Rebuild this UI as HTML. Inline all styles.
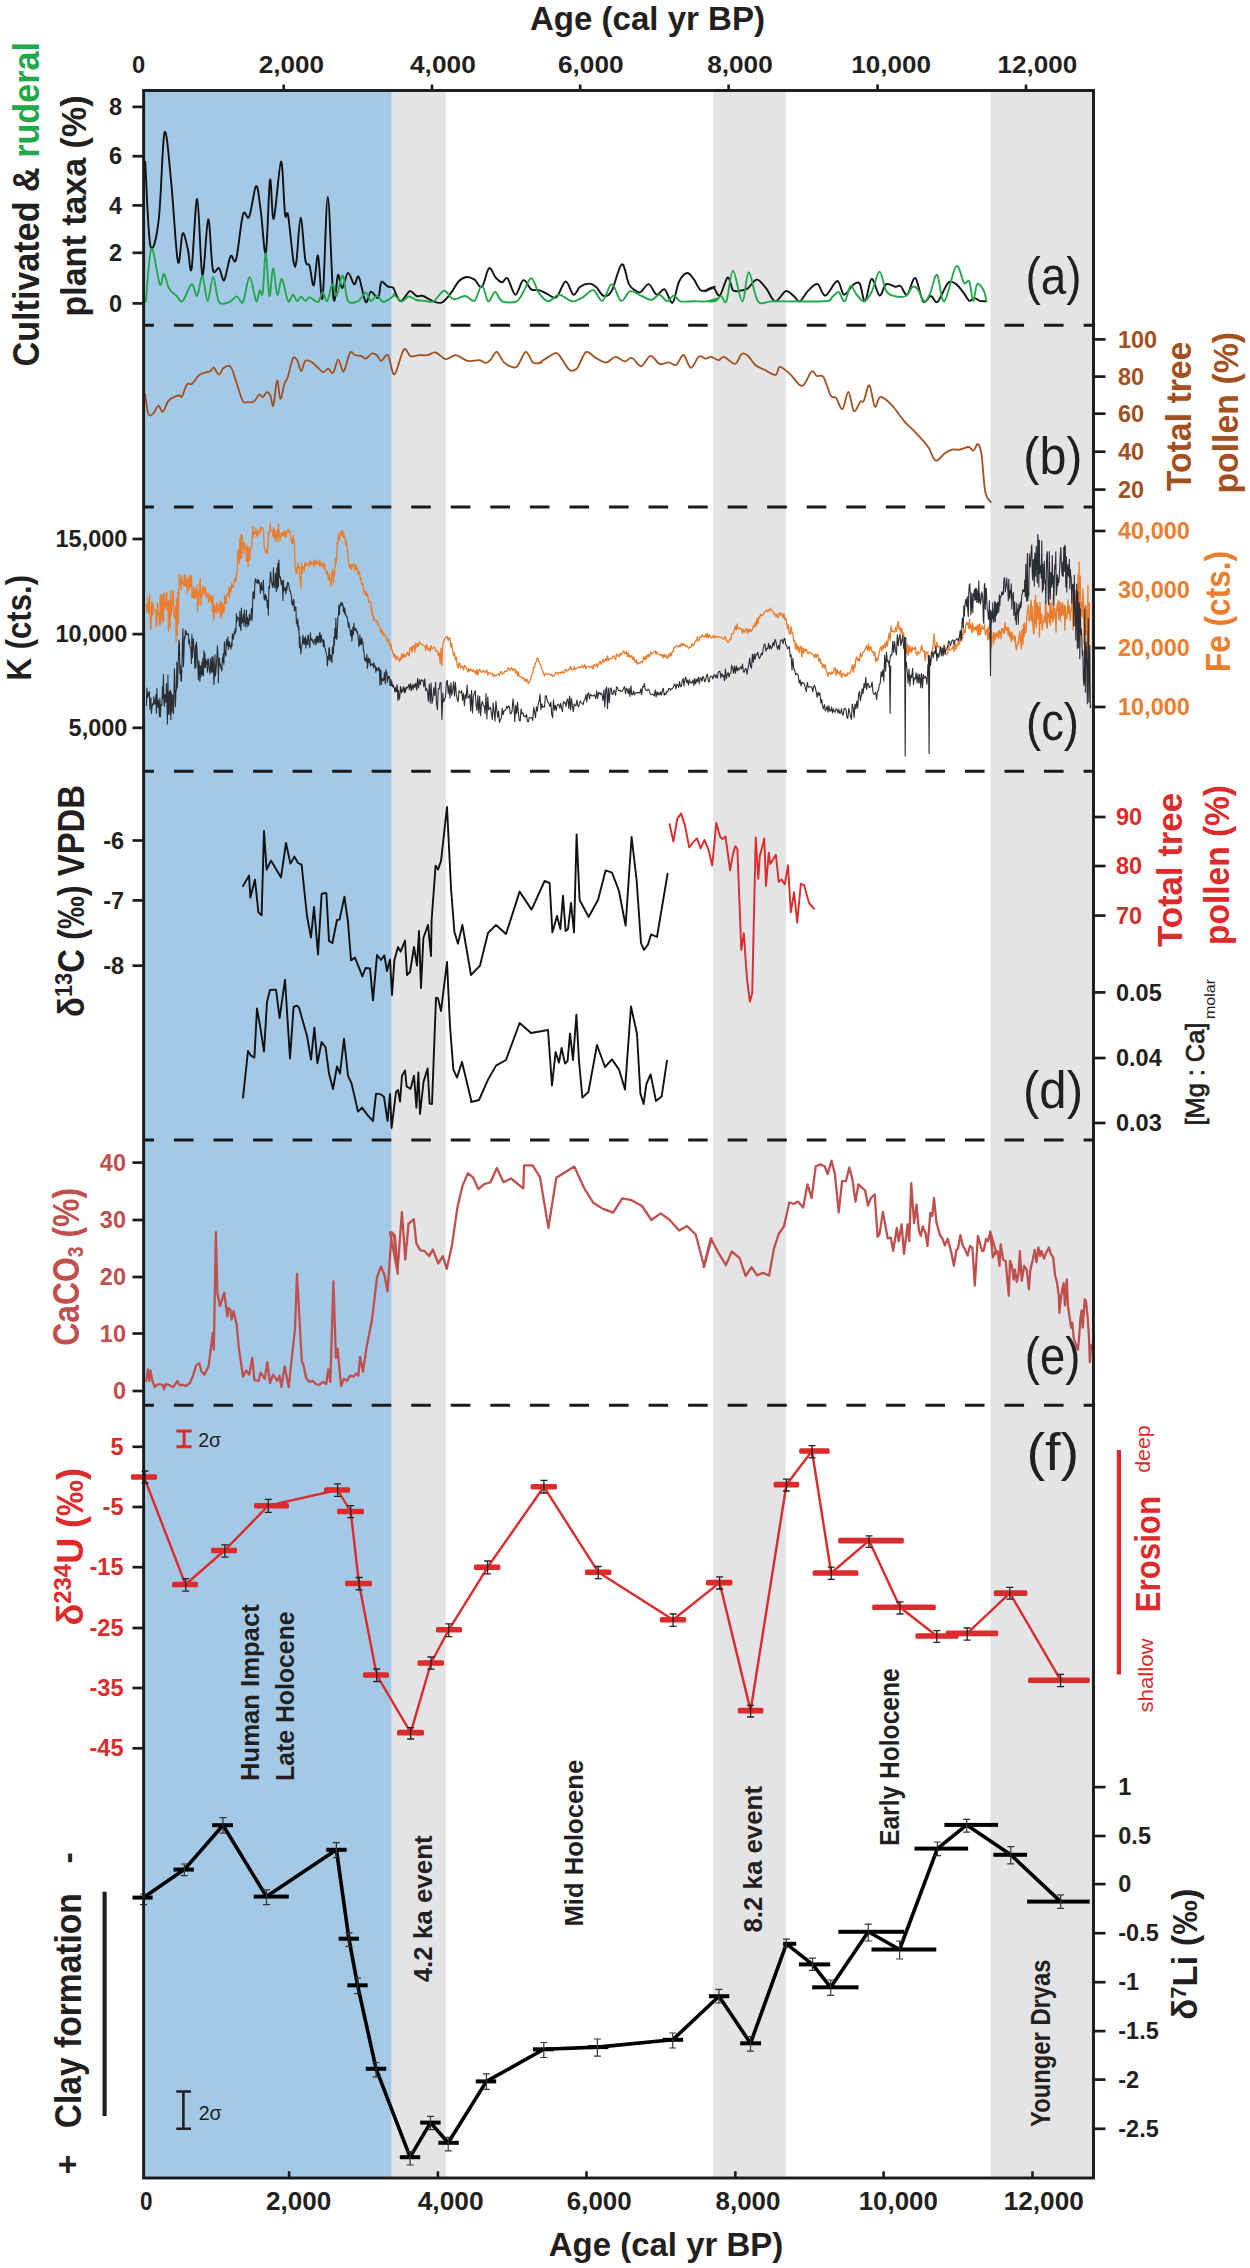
<!DOCTYPE html>
<html><head><meta charset="utf-8"><title>Figure</title>
<style>html,body{margin:0;padding:0;background:#fff;} body{width:1250px;height:2268px;overflow:hidden;font-family:"Liberation Sans",sans-serif;} svg{display:block;}</style>
</head><body>
<svg width="1250" height="2268" viewBox="0 0 1250 2268" font-family="Liberation Sans, sans-serif"><rect x="0" y="0" width="1250" height="2268" fill="#ffffff"/>
<rect x="143.6" y="90.5" width="248.1" height="2087.5" fill="#a4c9e6"/>
<rect x="391.7" y="90.5" width="54.0" height="2087.5" fill="#e4e4e6"/>
<rect x="713.2" y="90.5" width="72.69999999999993" height="2087.5" fill="#e4e4e6"/>
<rect x="990.5" y="90.5" width="103.0" height="2087.5" fill="#e4e4e6"/>
<line x1="143.6" y1="325.3" x2="1093.5" y2="325.3" stroke="#1a1a1a" stroke-width="3" stroke-dasharray="19.6 19.95" stroke-dashoffset="9.20"/>
<line x1="143.6" y1="506.9" x2="1093.5" y2="506.9" stroke="#1a1a1a" stroke-width="3" stroke-dasharray="19.6 19.95" stroke-dashoffset="9.20"/>
<line x1="143.6" y1="771.2" x2="1093.5" y2="771.2" stroke="#1a1a1a" stroke-width="3" stroke-dasharray="19.6 19.95" stroke-dashoffset="9.20"/>
<line x1="143.6" y1="1140.0" x2="1093.5" y2="1140.0" stroke="#1a1a1a" stroke-width="3" stroke-dasharray="19.6 19.95" stroke-dashoffset="9.20"/>
<line x1="143.6" y1="1405.3" x2="1093.5" y2="1405.3" stroke="#1a1a1a" stroke-width="3" stroke-dasharray="19.6 19.95" stroke-dashoffset="9.20"/>
<path d="M145.2,161.6 C146.1,175.6 148.1,236.1 150.4,245.8 C152.7,255.5 156.4,238.7 158.7,219.8 C161.1,200.9 162.5,138.7 164.5,132.5 C166.6,126.2 169.0,160.9 171.2,182.4 C173.4,203.9 175.9,252.9 177.9,261.4 C179.8,269.9 181.0,235.4 182.6,233.4 C184.3,231.3 186.3,243.1 187.8,249.0 C189.3,254.9 190.0,277.0 191.6,268.7 C193.1,260.4 195.4,198.0 197.2,199.0 C199.0,200.1 200.6,271.6 202.4,275.0 C204.2,278.4 206.5,220.4 208.2,219.4 C210.0,218.5 211.0,261.2 212.8,269.3 C214.6,277.5 217.1,266.3 219.0,268.1 C220.9,269.9 222.3,282.1 224.2,280.2 C226.1,278.2 228.5,259.7 230.5,256.2 C232.5,252.8 234.0,266.3 236.1,259.4 C238.2,252.4 240.8,221.7 243.0,214.6 C245.1,207.5 247.0,221.5 249.2,216.7 C251.4,212.0 254.2,187.4 256.1,186.1 C258.0,184.9 259.0,198.3 260.6,209.4 C262.3,220.6 264.3,258.0 265.8,253.1 C267.4,248.2 268.7,185.6 270.0,179.9 C271.3,174.2 271.9,221.9 273.7,218.8 C275.6,215.7 279.2,162.4 281.0,161.6 C282.9,160.8 283.8,205.1 285.0,214.0 C286.2,223.0 286.7,207.4 288.1,215.3 C289.5,223.2 292.1,253.7 293.5,261.4 C294.9,269.1 295.2,268.7 296.4,261.4 C297.6,254.2 299.1,217.9 300.6,217.8 C302.1,217.6 303.9,252.4 305.4,260.4 C306.9,268.4 308.1,261.4 309.5,265.6 C310.9,269.8 312.3,287.0 313.7,285.4 C315.1,283.7 316.6,253.5 318.0,255.6 C319.5,257.7 321.0,307.6 322.6,297.8 C324.3,288.1 326.0,197.0 327.8,197.0 C329.6,197.0 331.7,284.8 333.4,297.8 C335.1,310.8 336.6,276.6 338.0,275.0 C339.5,273.3 340.5,288.4 342.2,288.1 C343.8,287.7 346.0,273.5 348.0,272.9 C350.0,272.3 352.4,283.6 354.2,284.3 C356.0,285.0 356.9,274.1 358.8,277.0 C360.7,280.0 363.7,299.6 365.7,302.0 C367.7,304.4 368.8,292.3 370.9,291.6 C373.0,290.9 376.4,299.4 378.2,297.8 C379.9,296.3 379.7,284.1 381.3,282.2 C382.8,280.3 385.6,285.5 387.5,286.4 C389.4,287.3 391.6,286.9 392.7,287.4 C393.8,287.9 392.7,287.1 394.0,289.4 C395.3,291.7 397.9,301.0 400.6,301.3 C403.2,301.6 407.2,292.1 409.8,291.2 C412.4,290.4 414.2,295.2 416.4,296.0 C418.6,296.8 420.4,295.2 423.0,296.0 C425.6,296.8 429.2,299.7 432.2,300.8 C435.3,301.9 438.4,303.8 441.5,302.6 C444.6,301.4 447.9,296.9 450.7,293.4 C453.6,289.8 456.0,284.2 458.6,281.5 C461.3,278.8 463.9,277.3 466.6,277.0 C469.2,276.7 471.9,278.0 474.5,279.6 C477.0,281.3 479.5,288.7 481.9,286.8 C484.3,284.9 486.7,269.8 489.0,268.3 C491.3,266.7 493.4,275.2 495.6,277.5 C497.8,279.9 500.2,282.1 502.2,282.3 C504.2,282.4 505.3,276.2 507.5,278.3 C509.7,280.4 512.8,294.4 515.4,294.7 C518.0,295.0 520.7,281.0 523.3,280.2 C526.0,279.3 528.6,287.7 531.2,289.4 C533.9,291.1 536.5,289.4 539.2,290.2 C541.8,290.9 544.2,292.7 547.1,293.9 C549.9,295.1 553.2,299.4 556.3,297.3 C559.4,295.3 562.7,281.9 565.6,281.5 C568.4,281.0 571.1,293.8 573.5,294.7 C575.9,295.6 577.4,288.6 580.1,286.8 C582.7,284.9 586.7,283.6 589.3,283.6 C592.0,283.6 593.5,284.7 595.9,286.8 C598.3,288.8 601.2,295.3 603.8,296.0 C606.5,296.7 608.8,296.0 611.8,290.7 C614.8,285.4 618.9,265.4 621.8,264.3 C624.7,263.2 626.6,279.7 628.9,284.1 C631.2,288.5 633.5,289.4 635.5,290.7 C637.5,292.0 638.6,293.1 640.8,292.0 C643.0,290.9 646.1,283.7 648.7,284.1 C651.4,284.6 654.0,293.8 656.6,294.7 C659.3,295.6 661.9,288.1 664.6,289.4 C667.2,290.7 670.1,303.9 672.5,302.6 C674.9,301.3 676.7,286.4 679.1,281.5 C681.5,276.6 684.6,273.5 687.0,273.0 C689.4,272.6 691.2,275.9 693.6,278.8 C696.0,281.8 698.0,289.4 701.5,290.7 C705.0,292.0 714.1,286.7 714.7,286.8 C715.3,286.8 705.5,291.1 705.3,291.2 C705.0,291.4 710.8,286.8 713.2,287.6 C715.6,288.3 717.4,297.1 719.8,295.5 C722.2,293.8 725.5,278.4 727.7,277.5 C729.9,276.6 731.0,288.0 733.0,290.2 C735.0,292.4 737.2,291.0 739.6,290.7 C742.0,290.5 744.7,290.5 747.5,288.6 C750.4,286.8 753.7,279.7 756.8,279.6 C759.8,279.5 762.9,284.5 766.0,288.1 C769.1,291.7 771.9,300.8 775.2,301.3 C778.5,301.8 782.7,292.1 785.8,291.2 C788.9,290.4 791.4,294.3 793.7,296.0 C796.1,297.7 797.4,302.2 799.8,301.3 C802.2,300.4 805.3,293.6 808.2,290.7 C811.2,287.9 814.6,283.3 817.5,284.1 C820.3,284.9 822.1,296.0 825.4,295.5 C828.7,294.9 834.2,281.1 837.3,281.0 C840.4,280.8 841.2,294.0 843.9,294.7 C846.5,295.3 850.5,286.8 853.1,284.9 C855.8,283.1 857.7,280.9 859.7,283.6 C861.7,286.3 863.0,302.1 865.0,301.3 C867.0,300.5 869.2,279.8 871.6,278.8 C874.0,277.9 877.1,294.6 879.5,295.5 C881.9,296.4 883.5,285.6 886.1,284.1 C888.8,282.7 892.9,286.5 895.4,286.8 C897.8,287.1 898.7,284.6 900.6,286.0 C902.6,287.3 904.8,296.0 907.2,294.7 C909.7,293.4 912.5,276.9 915.2,278.0 C917.8,279.1 920.4,298.3 923.1,301.3 C925.7,304.3 928.6,295.9 931.0,296.0 C933.4,296.1 934.7,304.0 937.6,301.8 C940.5,299.6 945.1,285.7 948.2,282.8 C951.2,279.9 953.4,282.4 956.1,284.1 C958.7,285.9 961.8,290.6 964.0,293.4 C966.2,296.1 967.5,300.0 969.3,300.8 C971.0,301.5 972.8,298.1 974.6,298.1 C976.3,298.1 977.9,300.2 979.8,300.8 C981.8,301.3 985.3,301.2 986.4,301.3" fill="none" stroke="#111111" stroke-width="1.9" stroke-linejoin="round" stroke-linecap="round"/>
<path d="M145.8,302.0 C146.8,293.2 149.1,251.9 151.4,249.0 C153.8,246.0 157.7,280.2 159.8,284.3 C161.8,288.5 162.4,273.2 163.9,273.9 C165.5,274.6 167.0,284.8 169.1,288.5 C171.2,292.1 174.1,293.7 176.4,295.8 C178.7,297.8 180.1,302.9 182.6,301.0 C185.2,299.1 189.2,285.2 191.6,284.3 C194.0,283.5 195.4,297.1 197.2,295.8 C199.0,294.4 200.7,275.1 202.4,276.0 C204.1,276.9 205.8,300.8 207.6,301.0 C209.4,301.1 211.3,276.9 213.2,277.0 C215.1,277.2 216.3,297.8 219.0,302.0 C221.7,306.2 226.5,302.9 229.4,302.0 C232.4,301.1 234.5,296.4 236.7,296.4 C239.0,296.4 240.8,305.2 243.0,302.0 C245.1,298.8 247.4,277.2 249.6,277.0 C251.8,276.9 254.4,298.7 256.1,301.0 C257.7,303.2 258.5,291.9 259.6,290.6 C260.7,289.2 261.7,298.9 262.7,292.6 C263.8,286.4 264.7,252.6 265.8,253.1 C266.9,253.6 268.2,293.3 269.4,295.8 C270.6,298.3 271.8,268.3 273.1,268.1 C274.4,267.9 275.8,292.9 277.3,294.7 C278.7,296.6 280.1,278.1 281.9,279.1 C283.7,280.2 286.3,298.4 288.1,301.0 C289.9,303.6 291.4,294.7 292.9,294.7 C294.4,294.7 295.7,300.6 297.0,301.0 C298.4,301.3 299.8,296.8 301.2,296.8 C302.6,296.8 304.0,300.9 305.4,301.0 C306.7,301.0 307.4,297.0 309.5,297.2 C311.6,297.4 315.7,302.8 317.8,302.0 C320.0,301.2 321.1,292.4 322.6,292.2 C324.2,292.1 325.6,302.3 327.2,301.0 C328.8,299.6 330.8,285.2 332.4,284.3 C334.0,283.5 334.8,297.2 336.6,295.8 C338.3,294.3 340.9,274.7 342.8,275.6 C344.7,276.5 345.4,296.7 348.0,301.0 C350.6,305.2 355.5,302.3 358.4,301.0 C361.3,299.6 363.6,292.6 365.7,292.6 C367.8,292.6 369.0,300.4 370.9,301.0 C372.8,301.5 375.0,295.6 377.1,295.8 C379.2,295.9 380.6,302.0 383.4,302.0 C386.1,302.0 392.0,297.0 393.8,295.8 C395.5,294.5 392.6,293.8 394.0,294.7 C395.3,295.6 399.5,301.0 401.9,301.3 C404.3,301.6 406.1,296.7 408.5,296.5 C410.9,296.3 413.8,299.3 416.4,300.0 C419.0,300.7 421.5,300.5 424.3,300.8 C427.2,301.0 430.3,303.0 433.6,301.3 C436.9,299.6 440.8,291.1 444.1,290.7 C447.4,290.4 449.8,298.3 453.4,299.2 C456.9,300.0 461.7,295.7 465.2,296.0 C468.8,296.3 471.7,302.5 474.5,300.8 C477.3,299.0 479.6,285.4 481.9,285.4 C484.2,285.5 486.0,300.2 488.2,301.3 C490.4,302.4 492.7,292.0 495.1,292.0 C497.4,292.0 498.6,299.7 502.2,301.3 C505.8,302.8 513.2,302.8 516.7,301.3 C520.2,299.7 520.9,295.9 523.3,292.0 C525.7,288.2 528.6,278.1 531.2,278.3 C533.9,278.5 536.3,289.5 539.2,293.4 C542.0,297.2 545.1,301.1 548.4,301.3 C551.7,301.5 555.0,294.7 559.0,294.7 C562.9,294.7 568.2,300.8 572.2,301.3 C576.1,301.7 579.2,299.2 582.7,297.3 C586.2,295.5 590.0,289.6 593.3,290.2 C596.6,290.8 599.4,301.8 602.5,300.8 C605.6,299.7 608.7,284.1 611.8,284.1 C614.8,284.1 617.9,299.6 621.0,300.8 C624.1,301.9 626.9,292.1 630.2,291.2 C633.5,290.4 637.3,294.0 640.8,295.5 C644.3,296.9 648.3,300.1 651.4,300.0 C654.4,299.8 656.6,294.5 659.3,294.7 C661.9,294.9 664.8,301.1 667.2,301.3 C669.6,301.4 671.6,295.5 673.8,295.5 C676.0,295.5 677.1,300.3 680.4,301.3 C683.7,302.2 689.2,301.3 693.6,301.3 C698.0,301.3 702.8,301.7 706.8,301.3 C710.8,300.8 717.2,298.6 717.4,298.6 C717.5,298.6 708.2,300.9 707.9,301.3 C707.7,301.6 713.6,301.6 715.8,300.8 C718.0,299.9 719.4,295.9 721.1,296.0 C722.9,296.1 724.4,305.5 726.4,301.3 C728.4,297.1 730.4,270.9 733.0,270.9 C735.6,270.9 739.6,301.1 742.2,301.3 C744.9,301.5 746.2,272.2 748.8,272.2 C751.5,272.2 753.9,296.4 758.1,301.3 C762.3,306.1 762.9,301.3 773.9,301.3 C784.9,301.3 814.4,301.9 824.1,301.3 C833.8,300.6 829.6,298.9 832.0,297.3 C834.4,295.8 836.5,291.4 838.6,292.0 C840.7,292.7 842.7,302.3 844.7,301.3 C846.7,300.3 848.6,287.3 850.5,286.0 C852.3,284.6 853.6,290.8 855.8,293.4 C858.0,295.9 861.0,301.5 863.7,301.3 C866.3,301.1 869.0,297.0 871.6,292.0 C874.2,287.1 877.1,271.9 879.5,271.7 C881.9,271.5 883.7,286.7 886.1,290.7 C888.5,294.8 890.7,295.1 894.0,296.0 C897.3,296.9 902.8,297.5 905.9,296.0 C909.0,294.5 910.5,287.9 912.5,286.8 C914.5,285.7 915.8,287.0 917.8,289.4 C919.8,291.8 922.3,300.6 924.4,301.3 C926.5,301.9 928.1,297.8 930.2,293.4 C932.3,289.0 934.7,273.6 937.1,274.9 C939.4,276.2 941.0,302.7 944.2,301.3 C947.4,299.9 952.8,269.5 956.1,266.4 C959.4,263.4 961.8,280.3 964.0,282.8 C966.2,285.3 967.7,278.5 969.3,281.5 C970.8,284.5 971.9,300.3 973.2,300.8 C974.6,301.2 975.4,285.8 977.2,284.1 C979.0,282.4 982.3,287.9 983.8,290.7 C985.3,293.6 986.0,299.5 986.4,301.3" fill="none" stroke="#22a84a" stroke-width="1.9" stroke-linejoin="round" stroke-linecap="round"/>
<path d="M145.0,393.8 C145.6,397.2 147.0,410.8 148.4,414.0 C149.8,417.2 151.8,414.7 153.4,413.3 C155.1,411.9 156.9,405.9 158.5,405.6 C160.0,405.3 161.2,412.5 162.8,411.6 C164.5,410.8 166.5,403.1 168.6,400.6 C170.6,398.0 173.4,397.4 175.3,396.5 C177.1,395.7 178.5,395.5 179.6,395.5 C180.8,395.5 180.8,398.4 182.0,396.5 C183.2,394.7 185.4,386.6 187.0,384.4 C188.7,382.3 190.1,385.3 192.1,383.8 C194.0,382.2 196.8,377.2 198.8,375.4 C200.8,373.6 201.9,373.7 203.8,373.0 C205.8,372.3 208.9,371.9 210.6,371.0 C212.2,370.1 212.5,367.0 213.9,367.6 C215.3,368.2 217.3,374.7 219.0,374.7 C220.6,374.7 222.0,368.9 224.0,367.6 C226.0,366.3 228.8,364.8 230.7,367.0 C232.7,369.1 233.8,374.8 235.8,380.4 C237.7,386.0 240.5,396.9 242.5,400.6 C244.4,404.2 245.6,402.1 247.5,402.2 C249.5,402.4 252.3,402.5 254.2,401.2 C256.2,399.9 257.9,395.2 259.3,394.5 C260.7,393.8 261.4,397.6 262.6,397.2 C263.9,396.8 265.7,392.4 267.0,392.2 C268.3,391.9 269.3,393.3 270.4,395.5 C271.4,397.8 272.3,408.1 273.4,405.6 C274.5,403.1 275.9,381.5 277.1,380.4 C278.3,379.3 279.2,398.3 280.4,398.9 C281.7,399.4 283.2,387.4 284.5,383.8 C285.7,380.1 286.4,381.2 287.8,377.0 C289.2,372.8 291.3,361.4 292.9,358.6 C294.4,355.8 295.8,358.2 297.2,360.2 C298.6,362.3 299.9,370.9 301.3,371.0 C302.6,371.1 303.6,362.4 305.3,360.9 C307.0,359.4 309.5,361.0 311.4,361.9 C313.2,362.8 314.4,364.6 316.4,366.3 C318.4,368.0 321.2,371.6 323.1,372.0 C325.1,372.4 326.5,368.5 328.2,368.6 C329.8,368.8 331.5,374.2 333.2,372.7 C334.9,371.2 336.5,359.8 338.2,359.6 C340.0,359.3 341.7,372.4 343.6,371.3 C345.6,370.2 348.1,355.5 350.0,352.8 C351.9,350.2 353.1,354.6 355.0,355.2 C357.0,355.8 360.0,355.6 361.8,356.2 C363.6,356.8 364.1,359.0 365.8,358.6 C367.5,358.1 370.0,354.1 371.8,353.5 C373.7,353.0 375.3,354.0 376.9,355.2 C378.4,356.4 379.4,360.9 381.2,360.9 C383.1,360.9 385.8,353.0 388.0,355.2 C390.2,357.4 391.7,375.3 394.4,374.4 C397.0,373.4 401.1,352.5 403.8,349.5 C406.4,346.5 408.0,355.3 410.5,356.2 C413.0,357.2 416.1,355.4 418.9,355.2 C421.7,355.0 424.5,355.6 427.3,355.2 C430.1,354.8 432.6,351.8 435.7,352.5 C438.8,353.2 442.4,358.8 445.8,359.2 C449.1,359.7 452.2,354.9 455.8,355.2 C459.5,355.5 463.7,360.1 467.6,360.9 C471.5,361.8 476.3,359.9 479.4,360.2 C482.4,360.6 484.1,363.1 486.1,362.9 C488.0,362.8 489.3,361.1 491.1,359.2 C492.9,357.4 494.6,351.2 496.8,351.8 C499.1,352.5 501.3,360.4 504.6,362.9 C507.8,365.4 512.8,368.8 516.3,367.0 C519.8,365.1 522.9,352.6 525.7,351.8 C528.5,351.1 530.5,360.8 533.1,362.6 C535.8,364.4 540.4,362.6 541.5,362.6 C542.7,362.6 539.0,363.2 540.0,362.4 C541.0,361.6 544.6,359.2 547.4,357.6 C550.1,356.0 554.1,352.5 556.6,352.8 C559.0,353.1 559.9,356.6 562.1,359.4 C564.2,362.3 567.0,368.2 569.4,369.7 C571.9,371.3 574.0,371.6 576.8,368.6 C579.6,365.7 582.9,353.9 586.0,352.1 C589.1,350.2 591.8,355.9 595.2,357.6 C598.6,359.3 602.9,362.5 606.2,362.4 C609.6,362.3 612.4,357.0 615.4,356.9 C618.5,356.7 621.9,361.1 624.6,361.3 C627.4,361.5 629.2,357.2 632.0,358.0 C634.8,358.8 638.1,366.4 641.2,366.1 C644.3,365.7 647.3,356.1 650.4,355.8 C653.5,355.4 656.5,362.8 659.6,363.9 C662.7,365.0 666.0,362.2 668.8,362.4 C671.6,362.6 673.7,366.2 676.2,365.0 C678.6,363.7 681.1,354.5 683.5,355.0 C686.0,355.5 688.3,367.7 690.9,367.9 C693.5,368.1 696.5,358.0 699.0,356.5 C701.4,355.0 703.6,358.6 705.6,358.7 C707.6,358.8 709.0,356.6 711.1,356.9 C713.3,357.1 716.3,360.2 718.5,360.2 C720.6,360.2 721.2,356.3 724.0,356.9 C726.8,357.5 732.1,364.3 735.0,363.9 C738.0,363.4 739.5,355.3 741.7,353.9 C743.8,352.6 745.7,353.9 747.9,355.8 C750.2,357.6 752.5,362.6 755.3,365.0 C758.0,367.3 761.1,368.1 764.5,369.7 C767.9,371.4 772.9,375.4 775.5,374.9 C778.1,374.4 777.5,366.9 779.9,366.8 C782.4,366.7 786.6,371.0 790.2,374.2 C793.9,377.3 798.5,386.4 802.0,385.9 C805.6,385.5 809.1,373.2 811.6,371.6 C814.0,369.9 814.8,375.1 816.7,376.0 C818.7,376.9 821.0,373.9 823.4,377.1 C825.7,380.4 828.6,392.0 830.7,395.5 C832.9,399.0 834.3,395.8 836.2,398.1 C838.2,400.3 840.5,410.2 842.5,409.1 C844.5,408.1 846.5,391.5 848.4,391.8 C850.3,392.1 851.9,409.3 853.9,411.0 C855.9,412.6 858.5,403.5 860.2,401.8 C861.8,400.0 862.3,403.4 863.8,400.7 C865.4,397.9 867.5,384.2 869.4,385.2 C871.2,386.2 873.0,404.6 874.9,406.5 C876.7,408.5 877.6,397.3 880.4,397.0 C883.2,396.7 887.5,400.7 891.4,404.7 C895.4,408.8 900.3,416.7 904.3,421.3 C908.3,425.9 911.4,428.0 915.4,432.3 C919.3,436.6 924.9,442.3 928.2,447.0 C931.6,451.7 932.8,459.6 935.6,460.6 C938.4,461.7 942.0,455.1 944.8,453.3 C947.6,451.4 949.7,450.2 952.2,449.6 C954.6,449.0 956.8,450.0 959.5,449.6 C962.3,449.2 966.4,446.8 968.7,447.0 C971.1,447.2 972.0,451.2 973.5,450.7 C975.0,450.2 976.6,443.3 977.9,444.1 C979.3,444.8 980.4,447.1 981.6,455.1 C982.8,463.1 983.7,484.1 985.3,491.9 C986.8,499.8 989.9,500.5 990.8,502.2" fill="none" stroke="#a3501f" stroke-width="1.8" stroke-linejoin="round" stroke-linecap="round"/>
<path d="M146.4,604.4 L147.0,611.8 L147.5,607.3 L148.1,597.6 L148.6,613.0 L149.2,600.5 L149.7,594.1 L150.3,623.9 L150.8,629.6 L151.4,616.3 L151.9,602.2 L152.5,615.5 L153.0,603.3 L153.6,608.3 L154.1,608.3 L154.7,610.9 L155.2,610.6 L155.8,610.4 L156.3,626.9 L156.9,622.4 L157.4,602.6 L158.0,614.7 L158.5,613.4 L159.1,614.5 L159.6,625.6 L160.2,594.7 L160.7,624.2 L161.3,606.7 L161.8,595.1 L162.4,620.1 L162.9,595.0 L163.5,622.5 L164.0,592.1 L164.6,609.4 L165.1,607.5 L165.7,604.6 L166.2,594.4 L166.8,592.1 L167.3,610.4 L167.9,601.4 L168.4,631.1 L169.0,600.4 L169.5,610.8 L170.1,627.9 L170.6,590.4 L171.2,615.2 L171.7,610.4 L172.3,603.8 L172.8,590.1 L173.4,596.8 L173.9,614.5 L174.5,617.8 L175.0,617.7 L175.6,606.3 L176.1,642.0 L176.7,598.3 L177.2,635.7 L177.8,592.3 L178.3,623.3 L178.9,584.6 L179.4,574.1 L180.0,581.5 L180.5,580.6 L181.1,589.7 L181.6,575.9 L182.2,583.0 L182.7,583.7 L183.3,582.4 L183.8,585.9 L184.4,574.2 L184.9,585.6 L185.5,575.2 L186.0,586.0 L186.6,579.0 L187.1,593.8 L187.7,587.6 L188.2,579.5 L188.8,576.8 L189.3,589.8 L189.9,575.5 L190.4,586.9 L191.0,582.9 L191.5,575.3 L192.1,597.5 L192.6,596.9 L193.2,597.8 L193.7,586.7 L194.3,598.3 L194.8,589.2 L195.4,598.0 L195.9,589.5 L196.5,596.2 L197.0,584.9 L197.6,611.2 L198.1,592.0 L198.7,605.4 L199.2,595.1 L199.8,581.8 L200.3,578.7 L200.9,605.5 L201.4,591.2 L202.0,596.9 L202.5,587.2 L203.1,585.9 L203.6,589.6 L204.2,594.8 L204.7,588.0 L205.3,587.5 L205.8,591.2 L206.4,597.6 L206.9,593.5 L207.5,596.2 L208.0,593.0 L208.6,602.5 L209.1,601.0 L209.7,594.2 L210.2,600.7 L210.8,596.1 L211.3,603.0 L211.9,597.7 L212.4,611.3 L213.0,595.5 L213.5,620.3 L214.1,618.3 L214.6,604.3 L215.2,608.8 L215.7,611.7 L216.3,612.9 L216.8,602.7 L217.4,610.6 L217.9,608.0 L218.5,613.0 L219.0,604.7 L219.6,609.9 L220.1,601.6 L220.7,618.0 L221.2,601.6 L221.8,615.5 L222.3,611.3 L222.9,604.1 L223.4,611.1 L224.0,613.3 L224.5,595.6 L225.1,603.4 L225.6,596.9 L226.2,603.6 L226.7,594.2 L227.3,594.6 L227.8,596.1 L228.4,594.1 L228.9,586.9 L229.5,597.5 L230.0,590.4 L230.6,586.8 L231.1,591.7 L231.7,583.4 L232.2,587.4 L232.8,585.5 L233.3,586.9 L233.9,583.8 L234.4,578.8 L235.0,578.6 L235.5,577.6 L236.1,582.5 L236.6,572.5 L237.2,573.1 L237.7,554.0 L238.3,550.1 L238.8,558.2 L239.4,563.4 L239.9,538.9 L240.5,558.6 L241.0,534.9 L241.6,557.8 L242.1,534.5 L242.7,543.6 L243.2,543.6 L243.8,553.2 L244.3,542.6 L244.9,546.0 L245.4,547.4 L246.0,549.3 L246.5,561.5 L247.1,545.0 L247.6,558.1 L248.2,566.4 L248.7,550.7 L249.3,547.0 L249.8,560.3 L250.4,549.3 L250.9,548.6 L251.5,548.6 L252.0,540.1 L252.6,530.6 L253.1,526.3 L253.7,537.0 L254.2,532.5 L254.8,533.2 L255.3,533.4 L255.9,528.2 L256.4,534.2 L257.0,536.5 L257.5,531.4 L258.1,534.4 L258.6,532.1 L259.2,530.6 L259.7,529.5 L260.3,533.2 L260.8,527.0 L261.4,529.3 L261.9,529.0 L262.5,527.6 L263.0,528.6 L263.6,531.8 L264.1,546.0 L264.7,547.9 L265.2,549.2 L265.8,553.0 L266.3,549.6 L266.9,553.2 L267.4,552.6 L268.0,542.3 L268.5,532.0 L269.1,535.1 L269.6,529.9 L270.2,523.2 L270.7,529.9 L271.3,529.8 L271.8,531.5 L272.4,531.8 L272.9,536.2 L273.5,527.9 L274.0,538.3 L274.6,529.2 L275.1,538.0 L275.7,541.6 L276.2,537.1 L276.8,530.3 L277.3,533.1 L277.9,541.1 L278.4,524.0 L279.0,536.0 L279.5,531.0 L280.1,540.4 L280.6,537.0 L281.2,534.0 L281.7,536.0 L282.3,532.4 L282.8,532.4 L283.4,535.9 L283.9,530.9 L284.5,536.2 L285.0,534.8 L285.6,531.5 L286.1,537.4 L286.7,533.3 L287.2,531.1 L287.8,531.6 L288.3,529.1 L288.9,531.1 L289.4,532.9 L290.0,531.2 L290.5,534.4 L291.1,540.4 L291.6,542.8 L292.2,538.8 L292.7,543.6 L293.3,535.4 L293.8,540.8 L294.4,542.2 L294.9,563.3 L295.5,570.1 L296.0,572.9 L296.6,567.9 L297.1,573.7 L297.7,563.2 L298.2,567.3 L298.8,565.9 L299.3,567.2 L299.9,577.1 L300.4,583.3 L301.0,588.3 L301.5,562.9 L302.1,573.2 L302.6,567.6 L303.2,566.8 L303.7,567.0 L304.3,570.9 L304.8,562.9 L305.4,566.7 L305.9,562.5 L306.5,565.3 L307.0,563.6 L307.6,564.0 L308.1,563.9 L308.7,565.4 L309.2,566.5 L309.8,562.1 L310.3,560.9 L310.9,564.9 L311.4,561.8 L312.0,564.4 L312.5,563.8 L313.1,563.5 L313.6,561.3 L314.2,566.4 L314.7,560.0 L315.3,564.4 L315.8,562.8 L316.4,563.5 L316.9,560.6 L317.5,563.5 L318.0,562.7 L318.6,562.7 L319.1,565.2 L319.7,560.2 L320.2,566.4 L320.8,562.3 L321.3,563.4 L321.9,564.9 L322.4,566.1 L323.0,562.8 L323.5,568.3 L324.1,564.5 L324.6,563.3 L325.2,569.5 L325.7,570.1 L326.3,572.9 L326.8,574.2 L327.4,570.9 L327.9,576.0 L328.5,580.4 L329.0,574.1 L329.6,576.3 L330.1,580.2 L330.7,582.9 L331.2,586.3 L331.8,571.6 L332.3,577.2 L332.9,569.2 L333.4,583.1 L334.0,571.9 L334.5,575.8 L335.1,566.4 L335.6,557.9 L336.2,563.3 L336.7,557.6 L337.3,542.4 L337.8,544.9 L338.4,533.8 L338.9,537.5 L339.5,540.3 L340.0,533.0 L340.6,533.7 L341.1,530.9 L341.7,535.4 L342.2,530.2 L342.8,531.4 L343.3,537.1 L343.9,533.3 L344.4,536.9 L345.0,537.4 L345.5,544.6 L346.1,540.2 L346.6,544.7 L347.2,546.5 L347.7,554.7 L348.3,559.4 L348.8,562.9 L349.4,567.4 L349.9,564.4 L350.5,568.2 L351.0,565.2 L351.6,569.6 L352.1,564.4 L352.7,566.5 L353.2,565.1 L353.8,566.4 L354.3,564.1 L354.9,570.5 L355.4,564.3 L356.0,569.1 L356.5,566.6 L357.1,570.4 L357.6,568.8 L358.2,574.6 L358.7,571.4 L359.3,572.0 L359.8,575.0 L360.4,580.5 L360.9,578.0 L361.5,584.2 L362.0,583.7 L362.6,584.9 L363.1,583.6 L363.7,591.9 L364.2,590.9 L364.8,590.8 L365.3,594.9 L365.9,591.5 L366.4,593.5 L367.0,596.7 L367.5,593.5 L368.1,597.6 L368.6,602.0 L369.2,602.1 L369.7,600.9 L370.3,601.7 L370.8,602.3 L371.4,612.2 L371.9,608.1 L372.5,615.8 L373.0,614.0 L373.6,620.5 L374.1,617.4 L374.7,620.1 L375.2,620.0 L375.8,620.9 L376.3,621.4 L376.9,620.3 L377.4,624.1 L378.0,622.7 L378.5,625.2 L379.1,625.4 L379.6,627.1 L380.2,628.5 L380.7,632.1 L381.3,628.6 L381.8,633.8 L382.4,632.2 L382.9,631.2 L383.5,636.1 L384.0,633.7 L384.6,634.6 L385.1,635.7 L385.7,636.1 L386.2,637.3 L386.8,638.8 L387.3,641.5 L387.9,638.9 L388.4,642.6 L389.0,640.6 L389.5,644.9 L390.1,643.3 L390.6,648.8 L391.2,644.9 L391.7,649.9 L392.3,650.2 L392.8,653.9 L393.4,654.0 L393.9,656.8 L394.5,654.2 L395.0,656.5 L395.6,655.8 L396.1,659.7 L396.7,658.3 L397.2,656.5 L397.8,657.9 L398.3,659.1 L398.9,660.0 L399.4,661.5 L400.0,658.4 L400.5,660.3 L401.1,656.7 L401.6,654.3 L402.2,658.4 L402.7,656.5 L403.3,653.7 L403.8,657.2 L404.4,654.6 L404.9,657.0 L405.5,655.7 L406.0,656.2 L406.6,653.1 L407.1,652.4 L407.7,654.3 L408.2,653.4 L408.8,655.9 L409.3,654.7 L409.9,648.3 L410.4,648.9 L411.3,647.1 L412.2,651.8 L413.1,645.7 L414.0,645.2 L414.9,652.0 L415.8,642.8 L416.7,647.0 L417.6,643.4 L418.5,646.1 L419.4,641.5 L420.3,643.2 L421.2,643.9 L422.1,644.1 L423.0,645.0 L423.9,645.6 L424.8,646.2 L425.7,650.3 L426.6,644.4 L427.5,648.5 L428.4,650.2 L429.3,647.9 L430.2,651.3 L431.1,645.6 L432.0,648.7 L432.9,648.3 L433.8,647.2 L434.7,647.6 L435.6,650.8 L436.5,651.4 L437.4,650.7 L438.3,655.6 L439.2,652.6 L440.1,663.7 L441.0,648.3 L441.9,665.8 L442.8,644.3 L443.7,642.1 L444.6,639.0 L445.5,638.0 L446.4,637.0 L447.3,636.4 L448.2,640.5 L449.1,637.6 L450.0,638.9 L450.9,647.0 L451.8,643.5 L452.7,650.6 L453.6,655.7 L454.5,652.8 L455.4,659.9 L456.3,657.0 L457.2,665.8 L458.1,668.1 L459.0,662.6 L459.9,663.7 L460.8,668.0 L461.7,666.0 L462.6,666.8 L463.5,670.0 L464.4,665.4 L465.3,665.8 L466.2,668.5 L467.1,669.5 L468.0,672.0 L468.9,668.4 L469.8,671.2 L470.7,669.1 L471.6,670.2 L472.5,671.4 L473.4,669.7 L474.3,672.4 L475.2,670.7 L476.1,674.6 L477.0,669.7 L477.9,674.9 L478.8,670.5 L479.7,669.2 L480.6,671.6 L481.5,672.3 L482.4,672.1 L483.3,670.3 L484.2,671.9 L485.1,672.8 L486.0,670.5 L486.9,670.1 L487.8,675.2 L488.7,672.6 L489.6,672.4 L490.5,674.0 L491.4,674.2 L492.3,673.1 L493.2,676.4 L494.1,674.7 L495.0,676.3 L495.9,675.6 L496.8,675.3 L497.7,674.5 L498.6,673.8 L499.5,675.9 L500.4,671.7 L501.3,671.4 L502.2,674.2 L503.1,673.4 L504.0,672.9 L504.9,670.9 L505.8,671.1 L506.7,671.4 L507.6,669.2 L508.5,667.4 L509.4,670.4 L510.3,670.0 L511.2,667.7 L512.1,668.7 L513.0,670.8 L513.9,669.1 L514.8,668.6 L515.7,673.0 L516.6,670.6 L517.5,676.0 L518.4,671.9 L519.3,676.4 L520.2,676.6 L521.1,676.6 L522.0,678.8 L522.9,677.9 L523.8,677.9 L524.7,681.0 L525.6,679.3 L526.5,681.5 L527.4,679.5 L528.3,683.7 L529.2,682.1 L530.1,681.1 L531.0,677.3 L531.9,674.4 L532.8,673.8 L533.7,666.8 L534.6,667.4 L535.5,662.4 L536.4,661.7 L537.3,657.6 L538.2,659.6 L539.1,661.8 L540.0,664.4 L540.9,665.5 L541.8,669.3 L542.7,670.7 L543.6,673.7 L544.5,675.9 L545.4,673.2 L546.3,674.2 L547.2,674.4 L548.1,673.8 L549.0,674.3 L549.9,674.2 L550.8,675.4 L551.7,674.3 L552.6,676.2 L553.5,676.3 L554.4,674.8 L555.3,674.1 L556.2,672.1 L557.1,673.0 L558.0,674.2 L558.9,672.7 L559.8,672.3 L560.7,673.4 L561.6,671.5 L562.5,672.8 L563.4,671.9 L564.3,673.1 L565.2,669.3 L566.1,669.4 L567.0,671.2 L567.9,670.9 L568.8,669.1 L569.7,669.5 L570.6,666.1 L571.5,669.6 L572.4,669.8 L573.3,669.8 L574.2,666.5 L575.1,669.5 L576.0,668.5 L576.9,668.2 L577.8,667.6 L578.7,666.7 L579.6,667.7 L580.5,666.8 L581.4,667.4 L582.3,664.9 L583.2,667.9 L584.1,666.4 L585.0,664.8 L585.9,668.6 L586.8,666.9 L587.7,667.1 L588.6,666.1 L589.5,666.6 L590.4,667.8 L591.3,666.4 L592.2,666.1 L593.1,669.2 L594.0,664.4 L594.9,665.7 L595.8,665.9 L596.7,663.7 L597.6,667.3 L598.5,664.6 L599.4,662.5 L600.3,661.3 L601.2,664.4 L602.1,661.9 L603.0,659.0 L603.9,662.0 L604.8,661.3 L605.7,658.9 L606.6,661.0 L607.5,655.8 L608.4,660.7 L609.3,658.6 L610.2,658.7 L611.1,658.5 L612.0,658.8 L612.9,656.4 L613.8,655.8 L614.7,658.2 L615.6,659.7 L616.5,653.9 L617.4,655.9 L618.3,655.2 L619.2,656.9 L620.1,653.1 L621.0,655.1 L621.9,653.8 L622.8,652.7 L623.7,650.7 L624.6,653.6 L625.5,653.4 L626.4,651.2 L627.3,656.5 L628.2,652.9 L629.1,657.0 L630.0,655.2 L630.9,657.1 L631.8,655.6 L632.7,659.7 L633.6,656.9 L634.5,660.6 L635.4,662.4 L636.3,659.9 L637.2,664.2 L638.1,662.6 L639.0,663.6 L639.9,663.2 L640.8,661.7 L641.7,661.4 L642.6,662.8 L643.5,656.8 L644.4,659.6 L645.3,656.7 L646.2,659.7 L647.1,654.9 L648.0,657.2 L648.9,654.2 L649.8,656.6 L650.7,652.0 L651.6,653.9 L652.5,653.2 L653.4,653.0 L654.3,651.4 L655.2,651.0 L656.1,654.2 L657.0,651.9 L657.9,653.7 L658.8,654.2 L659.7,654.9 L660.6,654.2 L661.5,655.9 L662.4,654.7 L663.3,658.2 L664.2,654.2 L665.1,656.7 L666.0,654.9 L666.9,658.4 L667.8,657.6 L668.7,654.1 L669.6,656.9 L670.5,652.9 L671.4,655.6 L672.3,651.4 L673.2,651.3 L674.1,647.2 L675.0,647.9 L675.9,646.4 L676.8,645.5 L677.7,645.7 L678.6,647.3 L679.5,645.4 L680.4,646.7 L681.3,643.4 L682.2,645.8 L683.1,643.4 L684.0,645.4 L684.9,644.6 L685.8,646.7 L686.7,645.6 L687.6,646.8 L688.5,648.6 L689.4,646.9 L690.3,647.1 L691.2,647.0 L692.1,643.4 L693.0,645.9 L693.9,645.0 L694.8,641.9 L695.7,640.7 L696.6,640.7 L697.5,636.5 L698.4,641.2 L699.3,639.2 L700.2,636.5 L701.1,636.8 L702.0,634.9 L702.9,636.7 L703.8,636.2 L704.7,637.1 L705.6,634.2 L706.5,637.5 L707.4,633.2 L708.3,638.0 L709.2,634.7 L710.1,636.9 L711.0,636.9 L711.9,638.2 L712.8,636.7 L713.7,635.1 L714.6,638.1 L715.5,636.3 L716.4,636.9 L717.3,637.2 L718.2,636.6 L719.1,637.2 L720.0,637.3 L720.9,637.8 L721.8,637.4 L722.7,638.4 L723.6,639.4 L724.5,637.9 L725.4,636.5 L726.3,640.4 L727.2,641.5 L728.1,642.5 L729.0,642.0 L729.9,638.9 L730.8,639.7 L731.7,633.8 L732.6,633.6 L733.5,633.5 L734.4,629.1 L735.3,626.1 L736.2,630.0 L737.1,624.0 L738.0,628.9 L738.9,627.6 L739.8,628.8 L740.7,628.4 L741.6,629.2 L742.5,633.4 L743.4,629.2 L744.3,631.1 L745.2,632.5 L746.1,628.5 L747.0,629.3 L747.9,633.7 L748.8,628.9 L749.7,631.8 L750.6,629.5 L751.5,631.4 L752.4,629.7 L753.3,626.0 L754.2,627.3 L755.1,622.2 L756.0,626.3 L756.9,618.4 L757.8,623.8 L758.7,616.9 L759.6,618.1 L760.5,614.1 L761.4,615.6 L762.3,615.4 L763.2,614.6 L764.1,612.6 L765.0,611.1 L765.9,610.7 L766.8,609.9 L767.7,611.7 L768.6,610.0 L769.5,610.2 L770.4,608.0 L771.3,610.7 L772.2,610.9 L773.1,611.1 L774.0,614.6 L774.9,613.7 L775.8,616.5 L776.7,614.2 L777.6,617.7 L778.5,616.5 L779.4,612.8 L780.3,615.2 L781.2,613.3 L782.1,615.0 L783.0,617.8 L783.9,613.5 L784.8,619.6 L785.7,617.8 L786.6,623.0 L787.5,629.3 L788.4,624.6 L789.3,633.6 L790.2,634.2 L791.1,626.6 L792.0,633.5 L792.9,633.0 L793.8,641.7 L794.7,640.7 L795.6,649.1 L796.5,643.2 L797.4,650.2 L798.3,646.1 L799.2,652.8 L800.1,647.2 L801.0,645.9 L801.9,656.9 L802.8,647.9 L803.7,653.0 L804.6,648.9 L805.5,650.8 L806.4,649.4 L807.3,653.2 L808.2,652.3 L809.1,653.6 L810.0,652.1 L810.9,652.9 L811.8,653.9 L812.7,654.6 L813.6,654.7 L814.5,657.7 L815.4,654.1 L816.3,657.6 L817.2,654.2 L818.1,655.1 L819.0,661.6 L819.9,658.3 L820.8,663.4 L821.7,662.9 L822.6,667.7 L823.5,664.3 L824.4,667.9 L825.3,664.8 L826.2,671.5 L827.1,672.3 L828.0,676.3 L828.9,672.5 L829.8,672.9 L830.7,674.5 L831.6,671.8 L832.5,673.6 L833.4,672.1 L834.3,667.9 L835.2,667.9 L836.1,675.3 L837.0,669.3 L837.9,673.5 L838.8,671.8 L839.7,674.5 L840.6,670.4 L841.5,677.5 L842.4,675.1 L843.3,673.1 L844.2,675.2 L845.1,676.5 L846.0,674.2 L846.9,675.9 L847.8,672.7 L848.7,673.7 L849.6,673.7 L850.5,672.3 L851.4,668.1 L852.3,664.9 L853.2,672.2 L854.1,664.7 L855.0,668.0 L855.9,658.7 L856.8,657.0 L857.7,660.6 L858.6,658.7 L859.5,661.4 L860.4,653.0 L861.3,656.9 L862.2,655.1 L863.1,652.5 L864.0,651.5 L864.9,649.9 L865.8,647.2 L866.7,646.0 L867.6,650.3 L868.5,643.8 L869.4,651.0 L870.3,646.6 L871.2,647.9 L872.1,652.1 L873.0,651.4 L873.9,655.4 L874.8,652.0 L875.7,661.5 L876.6,658.2 L877.5,661.0 L878.4,656.7 L879.3,653.4 L880.2,647.7 L881.1,646.7 L882.0,650.8 L882.9,645.5 L883.8,648.3 L884.7,643.4 L885.6,647.6 L886.5,640.8 L887.4,646.0 L888.3,638.2 L889.2,633.1 L890.1,640.4 L891.0,626.1 L891.9,631.3 L892.8,631.0 L893.7,632.2 L894.6,632.2 L895.5,627.4 L896.4,631.7 L897.3,625.4 L898.2,621.3 L899.1,629.3 L900.0,626.8 L900.9,633.0 L901.8,628.3 L902.7,636.9 L903.6,632.8 L904.5,646.1 L905.4,650.5 L906.3,653.7 L907.2,643.8 L908.1,655.4 L909.0,645.3 L909.9,652.7 L910.8,646.8 L911.7,652.1 L912.6,647.5 L913.5,649.4 L914.4,649.1 L915.3,646.9 L916.2,654.0 L917.1,655.0 L918.0,651.5 L918.9,653.6 L919.8,652.9 L920.7,651.2 L921.6,645.1 L922.5,649.8 L923.4,651.7 L924.3,650.6 L925.2,660.7 L926.1,651.8 L927.0,652.9 L927.9,651.8 L928.8,670.3 L929.7,664.6 L930.6,661.9 L931.5,658.8 L932.4,649.8 L933.3,643.6 L934.2,633.7 L935.1,647.9 L936.0,647.4 L936.9,641.8 L937.8,647.1 L938.7,646.2 L939.6,648.0 L940.5,648.5 L941.4,647.8 L942.3,648.4 L943.2,653.8 L944.1,644.6 L945.0,647.7 L945.9,654.3 L946.8,654.7 L947.7,653.5 L948.6,645.1 L949.5,650.1 L950.4,650.0 L951.3,649.6 L952.2,648.4 L953.1,645.8 L954.0,651.5 L954.9,642.6 L955.8,649.5 L956.7,644.8 L957.6,646.5 L958.5,637.8 L959.4,644.7 L960.3,639.2 L960.8,638.5 L961.4,631.7 L961.9,634.3 L962.5,638.9 L963.0,635.1 L963.6,630.3 L964.1,633.0 L964.7,629.6 L965.2,632.4 L965.8,624.8 L966.3,623.8 L966.9,622.3 L967.4,624.7 L968.0,623.0 L968.5,627.8 L969.1,629.1 L969.6,619.4 L970.2,627.8 L970.7,624.9 L971.3,626.5 L971.8,632.6 L972.4,623.1 L972.9,631.6 L973.5,625.7 L974.0,629.0 L974.6,630.0 L975.1,628.7 L975.7,626.7 L976.2,630.0 L976.8,631.0 L977.3,625.1 L977.9,635.7 L978.4,627.0 L979.0,624.2 L979.5,634.7 L980.1,624.1 L980.6,634.6 L981.2,628.5 L981.7,628.9 L982.3,626.0 L982.8,628.7 L983.4,628.8 L983.9,629.0 L984.5,624.7 L985.0,631.3 L985.6,635.1 L986.1,631.9 L986.7,630.0 L987.2,629.3 L987.8,639.9 L988.3,626.8 L988.9,638.2 L989.4,639.3 L990.0,634.3 L990.5,639.3 L991.1,630.6 L991.6,646.9 L992.2,636.5 L992.7,637.7 L993.3,632.7 L993.8,643.9 L994.4,633.2 L994.9,639.5 L995.5,638.1 L996.0,633.0 L996.6,634.6 L997.1,637.0 L997.7,633.5 L998.2,631.8 L998.8,638.5 L999.3,630.1 L999.9,632.0 L1000.4,633.7 L1001.0,638.6 L1001.5,628.8 L1002.1,630.6 L1002.6,628.7 L1003.2,632.6 L1003.7,628.9 L1004.3,633.3 L1004.8,622.3 L1005.4,626.6 L1005.9,629.8 L1006.5,630.5 L1007.0,627.4 L1007.6,627.4 L1008.1,635.4 L1008.7,627.7 L1009.2,632.8 L1009.8,637.2 L1010.3,631.8 L1010.9,638.5 L1011.4,641.3 L1012.0,631.9 L1012.5,639.5 L1013.1,638.5 L1013.6,637.5 L1014.2,635.2 L1014.7,641.7 L1015.3,636.7 L1015.8,646.7 L1016.4,649.9 L1016.9,645.4 L1017.5,645.7 L1018.0,641.6 L1018.6,643.8 L1019.1,636.3 L1019.7,631.6 L1020.2,637.5 L1020.8,642.5 L1021.3,648.9 L1021.9,630.7 L1022.4,629.6 L1023.0,644.5 L1023.5,623.8 L1024.1,636.6 L1024.6,622.8 L1025.2,628.2 L1025.7,633.1 L1026.3,627.8 L1026.8,616.8 L1027.4,611.6 L1027.9,609.0 L1028.5,604.9 L1029.0,620.8 L1029.6,618.6 L1030.1,620.6 L1030.7,604.6 L1031.2,599.8 L1031.8,621.0 L1032.3,606.3 L1032.9,625.0 L1033.4,633.1 L1034.0,633.8 L1034.5,600.1 L1035.1,623.9 L1035.6,595.3 L1036.2,627.8 L1036.7,612.0 L1037.3,602.4 L1037.8,619.2 L1038.4,606.1 L1038.9,609.6 L1039.5,637.0 L1040.0,602.4 L1040.6,620.3 L1041.1,623.4 L1041.7,613.9 L1042.2,630.0 L1042.8,624.3 L1043.3,621.1 L1043.9,619.2 L1044.4,616.4 L1045.0,622.3 L1045.5,600.3 L1046.1,605.9 L1046.6,626.7 L1047.2,628.2 L1047.7,612.4 L1048.3,616.6 L1048.8,614.4 L1049.4,622.8 L1049.9,603.4 L1050.5,625.3 L1051.0,602.4 L1051.6,617.7 L1052.1,610.4 L1052.7,621.9 L1053.2,595.0 L1053.8,619.1 L1054.3,610.1 L1054.9,608.5 L1055.4,615.9 L1056.0,632.3 L1056.5,612.4 L1057.1,605.0 L1057.6,610.9 L1058.2,600.7 L1058.7,619.5 L1059.3,607.8 L1059.8,601.7 L1060.4,621.3 L1060.9,603.5 L1061.5,615.4 L1062.0,610.8 L1062.6,602.7 L1063.1,615.0 L1063.7,614.5 L1064.2,605.2 L1064.8,630.3 L1065.3,605.9 L1065.9,616.4 L1066.4,619.2 L1067.0,616.9 L1067.5,608.1 L1068.1,599.9 L1068.6,613.6 L1069.2,605.8 L1069.7,608.9 L1070.3,620.6 L1070.8,611.9 L1071.4,610.4 L1071.9,602.5 L1072.5,597.3 L1073.0,629.8 L1073.6,608.2 L1074.1,624.0 L1074.7,625.7 L1075.2,590.4 L1075.8,610.8 L1076.3,617.4 L1076.9,603.8 L1077.4,622.3 L1078.0,574.9 L1078.5,614.9 L1079.1,561.9 L1079.6,648.0 L1080.2,576.0 L1080.7,615.5 L1081.3,602.5 L1081.8,609.6 L1082.4,617.5 L1082.9,589.0 L1083.5,600.9 L1084.0,643.7 L1084.6,620.4 L1085.1,605.3 L1085.7,634.6 L1086.2,606.4 L1086.8,618.3 L1087.3,686.4 L1087.9,585.7 L1088.4,641.9 L1089.0,680.6 L1089.5,602.8" fill="none" stroke="#ea7e2e" stroke-width="1.3" stroke-linejoin="round" stroke-linecap="round" />
<path d="M146.4,705.3 L146.9,688.1 L147.4,698.0 L147.9,693.6 L148.4,692.7 L148.9,696.5 L149.4,691.5 L149.9,709.3 L150.4,701.0 L150.9,697.7 L151.4,713.5 L151.9,707.8 L152.4,705.2 L152.9,703.5 L153.4,704.6 L153.9,696.8 L154.4,700.7 L154.9,704.3 L155.4,703.3 L155.9,694.9 L156.4,713.2 L156.9,688.2 L157.4,702.6 L157.9,707.4 L158.4,700.1 L158.9,704.9 L159.4,716.6 L159.9,698.2 L160.4,716.7 L160.9,704.9 L161.4,705.6 L161.9,705.3 L162.4,686.5 L162.9,698.4 L163.4,674.2 L163.9,701.9 L164.4,706.5 L164.9,694.5 L165.4,697.6 L165.9,702.4 L166.4,683.6 L166.9,703.1 L167.4,724.0 L167.9,675.0 L168.4,714.2 L168.9,702.1 L169.4,691.6 L169.9,714.4 L170.4,690.0 L170.9,719.5 L171.4,693.1 L171.9,712.2 L172.4,695.5 L172.9,695.0 L173.4,713.8 L173.9,698.4 L174.4,668.6 L174.9,681.6 L175.4,706.7 L175.9,692.2 L176.4,689.6 L176.9,662.0 L177.4,687.8 L177.9,672.5 L178.4,658.6 L178.9,640.0 L179.4,645.2 L179.9,673.7 L180.4,665.4 L180.9,680.6 L181.4,681.4 L181.9,665.7 L182.4,644.0 L182.9,628.7 L183.4,666.4 L183.9,656.0 L184.4,636.5 L184.9,638.8 L185.4,630.2 L185.9,634.8 L186.4,631.5 L186.9,634.2 L187.4,634.2 L187.9,635.0 L188.4,633.7 L188.9,643.6 L189.4,639.5 L189.9,645.8 L190.4,647.7 L190.9,649.2 L191.4,663.6 L191.9,634.4 L192.4,658.0 L192.9,639.8 L193.4,638.7 L193.9,650.0 L194.4,653.6 L194.9,668.4 L195.4,645.0 L195.9,667.6 L196.4,642.1 L196.9,647.0 L197.4,660.3 L197.9,666.5 L198.4,679.7 L198.9,660.8 L199.4,667.6 L199.9,681.4 L200.4,665.7 L200.9,676.7 L201.4,672.5 L201.9,662.1 L202.4,674.7 L202.9,658.3 L203.4,676.0 L203.9,650.6 L204.4,667.4 L204.9,653.3 L205.4,667.4 L205.9,659.6 L206.4,663.9 L206.9,661.2 L207.4,672.2 L207.9,658.7 L208.4,659.8 L208.9,666.2 L209.4,671.2 L209.9,673.8 L210.4,658.9 L210.9,665.6 L211.4,672.2 L211.9,657.0 L212.4,672.1 L212.9,656.8 L213.4,663.2 L213.9,684.4 L214.4,675.1 L214.9,654.8 L215.4,675.9 L215.9,671.6 L216.4,664.6 L216.9,657.9 L217.4,645.7 L217.9,655.6 L218.4,682.7 L218.9,659.0 L219.4,658.0 L219.9,665.9 L220.4,664.0 L220.9,668.7 L221.4,666.2 L221.9,671.2 L222.4,657.6 L222.9,662.3 L223.4,653.6 L223.9,664.3 L224.4,641.8 L224.9,651.4 L225.4,654.8 L225.9,656.1 L226.4,639.6 L226.9,644.5 L227.4,645.7 L227.9,636.9 L228.4,649.4 L228.9,642.8 L229.4,641.6 L229.9,646.6 L230.4,645.7 L230.9,649.1 L231.4,643.0 L231.9,646.7 L232.4,633.7 L232.9,637.1 L233.4,639.1 L233.9,634.8 L234.4,631.3 L234.9,634.1 L235.4,628.4 L235.9,632.1 L236.4,613.9 L236.9,621.5 L237.4,617.0 L237.9,617.5 L238.4,618.1 L238.9,620.2 L239.4,626.2 L239.9,611.4 L240.4,627.1 L240.9,630.8 L241.4,608.0 L241.9,623.1 L242.4,618.7 L242.9,621.8 L243.4,614.4 L243.9,626.1 L244.4,609.9 L244.9,622.3 L245.4,622.1 L245.9,627.3 L246.4,610.3 L246.9,623.8 L247.4,617.3 L247.9,626.7 L248.4,619.2 L248.9,624.4 L249.4,614.1 L249.9,620.4 L250.4,618.5 L250.9,617.9 L251.4,608.3 L251.9,620.7 L252.4,613.4 L252.9,591.8 L253.4,597.7 L253.9,592.4 L254.4,598.6 L254.9,582.8 L255.4,578.8 L255.9,581.7 L256.4,582.3 L256.9,582.7 L257.4,579.3 L257.9,583.7 L258.4,580.1 L258.9,580.9 L259.4,583.7 L259.9,584.3 L260.4,593.3 L260.9,588.9 L261.4,582.2 L261.9,590.0 L262.4,589.5 L262.9,590.2 L263.4,580.3 L263.9,596.8 L264.4,599.9 L264.9,595.7 L265.4,594.4 L265.9,599.9 L266.4,596.1 L266.9,601.8 L267.4,607.8 L267.9,600.6 L268.4,615.2 L268.9,586.5 L269.4,588.6 L269.9,582.2 L270.4,571.7 L270.9,574.6 L271.4,582.2 L271.9,582.8 L272.4,586.1 L272.9,587.8 L273.4,567.8 L273.9,584.8 L274.4,584.1 L274.9,587.9 L275.4,573.1 L275.9,577.6 L276.4,591.8 L276.9,567.9 L277.4,588.8 L277.9,563.2 L278.4,586.6 L278.9,560.0 L279.4,576.2 L279.9,577.9 L280.4,576.9 L280.9,582.3 L281.4,585.0 L281.9,580.1 L282.4,584.1 L282.9,600.5 L283.4,580.0 L283.9,591.1 L284.4,589.9 L284.9,587.7 L285.4,589.9 L285.9,594.0 L286.4,586.4 L286.9,590.3 L287.4,583.2 L287.9,582.2 L288.4,583.2 L288.9,585.7 L289.4,589.4 L289.9,591.0 L290.4,590.6 L290.9,594.4 L291.4,595.9 L291.9,604.3 L292.4,601.8 L292.9,605.9 L293.4,599.2 L293.9,600.3 L294.4,610.9 L294.9,606.8 L295.4,609.7 L295.9,607.3 L296.4,623.3 L296.9,621.1 L297.4,626.3 L297.9,618.7 L298.4,630.1 L298.9,626.9 L299.4,647.5 L299.9,636.5 L300.4,648.6 L300.9,653.9 L301.4,647.7 L301.9,645.4 L302.4,643.3 L302.9,635.0 L303.4,643.4 L303.9,638.2 L304.4,644.4 L304.9,639.3 L305.4,636.5 L305.9,648.0 L306.4,639.3 L306.9,643.5 L307.4,644.5 L307.9,635.0 L308.4,635.8 L308.9,642.7 L309.4,646.6 L309.9,647.6 L310.4,632.8 L310.9,639.8 L311.4,640.1 L311.9,638.7 L312.4,640.3 L312.9,642.4 L313.4,641.6 L313.9,644.5 L314.4,639.5 L314.9,640.5 L315.4,638.8 L315.9,644.9 L316.4,636.4 L316.9,642.9 L317.4,636.2 L317.9,641.1 L318.4,636.6 L318.9,642.8 L319.4,633.8 L319.9,632.5 L320.4,642.7 L320.9,635.2 L321.4,635.6 L321.9,641.7 L322.4,641.1 L322.9,639.6 L323.4,646.7 L323.9,640.1 L324.4,645.6 L324.9,647.8 L325.4,649.3 L325.9,652.4 L326.4,653.0 L326.9,656.6 L327.4,666.0 L327.9,656.9 L328.4,659.6 L328.9,648.8 L329.4,647.6 L329.9,661.1 L330.4,657.8 L330.9,655.1 L331.4,658.3 L331.9,662.7 L332.4,648.3 L332.9,646.2 L333.4,653.7 L333.9,637.1 L334.4,645.1 L334.9,628.2 L335.4,638.1 L335.9,618.2 L336.4,639.0 L336.9,639.3 L337.4,629.5 L337.9,617.6 L338.4,615.2 L338.9,604.7 L339.4,614.7 L339.9,606.0 L340.4,605.5 L340.9,602.3 L341.4,603.5 L341.9,605.6 L342.4,603.0 L342.9,604.9 L343.4,611.4 L343.9,607.0 L344.4,613.5 L344.9,608.5 L345.4,615.0 L345.9,614.3 L346.4,616.5 L346.9,616.4 L347.4,618.7 L347.9,622.4 L348.4,627.3 L348.9,622.5 L349.4,626.8 L349.9,628.6 L350.4,633.3 L350.9,636.1 L351.4,630.0 L351.9,641.3 L352.4,635.6 L352.9,627.0 L353.4,634.8 L353.9,623.3 L354.4,629.9 L354.9,629.4 L355.4,630.6 L355.9,628.1 L356.4,630.6 L356.9,632.6 L357.4,631.5 L357.9,635.4 L358.4,639.3 L358.9,646.7 L359.4,644.9 L359.9,634.9 L360.4,644.4 L360.9,639.0 L361.4,644.6 L361.9,638.1 L362.4,642.9 L362.9,641.7 L363.4,650.5 L363.9,650.6 L364.4,658.0 L364.9,660.5 L365.4,658.3 L365.9,661.5 L366.4,661.4 L366.9,654.3 L367.4,668.5 L367.9,663.9 L368.4,657.9 L368.9,662.5 L369.4,661.3 L369.9,658.8 L370.4,666.0 L370.9,663.4 L371.4,664.6 L371.9,664.5 L372.4,664.8 L372.9,663.5 L373.4,667.8 L373.9,662.7 L374.4,666.9 L374.9,665.2 L375.4,667.8 L375.9,672.1 L376.4,667.5 L376.9,670.2 L377.4,670.0 L377.9,669.7 L378.4,667.3 L378.9,670.9 L379.4,668.4 L379.9,685.0 L380.4,671.8 L380.9,669.8 L381.4,684.6 L381.9,678.1 L382.4,680.1 L382.9,678.7 L383.4,680.9 L383.9,678.0 L384.4,672.5 L384.9,680.4 L385.4,684.0 L385.9,669.8 L386.4,674.3 L386.9,672.2 L387.4,682.5 L387.9,676.3 L388.4,677.6 L388.9,678.5 L389.4,676.2 L389.9,685.2 L390.4,685.4 L390.9,679.3 L391.4,685.8 L391.9,681.9 L392.4,686.1 L392.9,687.0 L393.4,685.1 L393.9,687.5 L394.4,688.2 L394.9,691.9 L395.4,687.5 L395.9,691.8 L396.4,691.5 L396.9,684.7 L397.4,687.0 L397.9,700.4 L398.4,690.4 L398.9,695.2 L399.4,699.3 L399.9,695.7 L400.4,686.3 L400.9,687.8 L401.4,692.9 L401.9,689.8 L402.4,691.6 L402.9,689.2 L403.4,686.5 L403.9,690.3 L404.4,692.9 L404.9,687.8 L405.4,692.2 L405.9,690.0 L406.4,687.0 L406.9,688.0 L407.4,688.0 L407.9,686.5 L408.4,686.6 L408.9,684.5 L409.4,689.8 L409.9,686.1 L410.4,683.4 L411.3,690.6 L412.2,684.5 L413.1,689.4 L414.0,684.1 L414.9,687.3 L415.8,683.1 L416.7,690.3 L417.6,678.4 L418.5,688.0 L419.4,679.6 L420.3,684.6 L421.2,679.7 L422.1,680.8 L423.0,680.2 L423.9,687.0 L424.8,678.7 L425.7,690.6 L426.6,688.6 L427.5,691.5 L428.4,701.3 L429.3,684.0 L430.2,702.9 L431.1,683.0 L432.0,703.4 L432.9,698.2 L433.8,687.7 L434.7,695.8 L435.6,682.2 L436.5,703.2 L437.4,709.8 L438.3,688.9 L439.2,689.0 L440.1,682.4 L441.0,683.0 L441.9,719.5 L442.8,693.1 L443.7,701.9 L444.6,699.3 L445.5,697.1 L446.4,682.0 L447.3,680.4 L448.2,693.8 L449.1,685.2 L450.0,698.3 L450.9,682.9 L451.8,695.3 L452.7,690.0 L453.6,681.5 L454.5,696.3 L455.4,682.6 L456.3,694.3 L457.2,699.4 L458.1,701.7 L459.0,690.7 L459.9,692.1 L460.8,692.9 L461.7,690.7 L462.6,700.3 L463.5,693.3 L464.4,705.7 L465.3,694.6 L466.2,698.1 L467.1,685.0 L468.0,698.0 L468.9,697.4 L469.8,694.6 L470.7,711.0 L471.6,690.4 L472.5,713.0 L473.4,696.3 L474.3,692.9 L475.2,690.6 L476.1,705.7 L477.0,710.4 L477.9,695.6 L478.8,713.1 L479.7,696.3 L480.6,715.7 L481.5,704.3 L482.4,701.3 L483.3,705.7 L484.2,705.7 L485.1,713.6 L486.0,693.6 L486.9,718.9 L487.8,697.1 L488.7,709.9 L489.6,707.9 L490.5,707.3 L491.4,712.9 L492.3,719.8 L493.2,702.7 L494.1,711.9 L495.0,721.0 L495.9,701.1 L496.8,709.6 L497.7,717.5 L498.6,711.1 L499.5,722.4 L500.4,719.8 L501.3,718.2 L502.2,708.4 L503.1,714.8 L504.0,710.6 L504.9,710.6 L505.8,709.4 L506.7,706.3 L507.6,708.2 L508.5,705.9 L509.4,706.8 L510.3,713.8 L511.2,713.3 L512.1,710.8 L513.0,698.8 L513.9,706.9 L514.8,721.5 L515.7,705.2 L516.6,713.6 L517.5,702.4 L518.4,713.3 L519.3,720.3 L520.2,721.0 L521.1,708.9 L522.0,713.9 L522.9,712.9 L523.8,716.3 L524.7,715.8 L525.6,716.8 L526.5,714.6 L527.4,721.4 L528.3,721.8 L529.2,717.5 L530.1,717.9 L531.0,717.7 L531.9,717.9 L532.8,720.4 L533.7,707.4 L534.6,712.3 L535.5,717.6 L536.4,706.8 L537.3,711.1 L538.2,704.2 L539.1,701.0 L540.0,694.2 L540.9,709.8 L541.8,703.8 L542.7,707.4 L543.6,706.8 L544.5,707.1 L545.4,695.7 L546.3,695.7 L547.2,700.5 L548.1,702.5 L549.0,703.3 L549.9,706.5 L550.8,702.0 L551.7,714.2 L552.6,717.7 L553.5,700.1 L554.4,710.0 L555.3,705.2 L556.2,710.6 L557.1,705.7 L558.0,704.0 L558.9,704.7 L559.8,708.1 L560.7,703.4 L561.6,708.9 L562.5,711.5 L563.4,701.5 L564.3,703.1 L565.2,702.5 L566.1,706.6 L567.0,700.2 L567.9,698.8 L568.8,708.5 L569.7,696.0 L570.6,709.8 L571.5,698.5 L572.4,706.2 L573.3,711.8 L574.2,704.1 L575.1,705.4 L576.0,705.7 L576.9,700.0 L577.8,705.5 L578.7,707.0 L579.6,702.5 L580.5,701.0 L581.4,703.1 L582.3,703.6 L583.2,704.5 L584.1,700.4 L585.0,699.2 L585.9,694.5 L586.8,702.0 L587.7,693.6 L588.6,693.1 L589.5,698.8 L590.4,694.0 L591.3,695.8 L592.2,695.8 L593.1,696.0 L594.0,694.7 L594.9,695.9 L595.8,698.8 L596.7,690.8 L597.6,698.5 L598.5,692.6 L599.4,692.6 L600.3,694.7 L601.2,692.9 L602.1,695.0 L603.0,700.8 L603.9,689.9 L604.8,706.9 L605.7,689.6 L606.6,686.9 L607.5,708.4 L608.4,688.1 L609.3,702.7 L610.2,688.9 L611.1,687.8 L612.0,694.5 L612.9,694.5 L613.8,690.1 L614.7,691.7 L615.6,695.3 L616.5,686.9 L617.4,687.4 L618.3,690.7 L619.2,690.6 L620.1,690.3 L621.0,691.6 L621.9,691.2 L622.8,689.9 L623.7,688.0 L624.6,686.6 L625.5,693.6 L626.4,688.3 L627.3,689.4 L628.2,693.8 L629.1,688.4 L630.0,696.5 L630.9,685.8 L631.8,694.8 L632.7,694.6 L633.6,690.8 L634.5,694.7 L635.4,693.4 L636.3,692.5 L637.2,693.1 L638.1,692.6 L639.0,692.5 L639.9,693.1 L640.8,688.9 L641.7,694.6 L642.6,686.5 L643.5,687.0 L644.4,683.5 L645.3,689.5 L646.2,690.4 L647.1,690.8 L648.0,689.3 L648.9,689.6 L649.8,692.7 L650.7,694.5 L651.6,694.7 L652.5,694.1 L653.4,694.5 L654.3,695.9 L655.2,689.8 L656.1,696.9 L657.0,691.5 L657.9,695.0 L658.8,692.8 L659.7,694.8 L660.6,691.9 L661.5,695.2 L662.4,690.2 L663.3,688.3 L664.2,695.3 L665.1,693.1 L666.0,694.3 L666.9,691.2 L667.8,691.8 L668.7,688.6 L669.6,688.3 L670.5,690.4 L671.4,688.8 L672.3,688.7 L673.2,687.2 L674.1,685.2 L675.0,684.0 L675.9,689.0 L676.8,684.4 L677.7,684.9 L678.6,687.5 L679.5,681.5 L680.4,686.7 L681.3,686.3 L682.2,681.3 L683.1,678.2 L684.0,686.0 L684.9,680.0 L685.8,677.0 L686.7,682.7 L687.6,680.1 L688.5,685.1 L689.4,679.6 L690.3,682.8 L691.2,682.1 L692.1,683.0 L693.0,679.9 L693.9,685.7 L694.8,678.3 L695.7,684.0 L696.6,679.3 L697.5,681.7 L698.4,677.1 L699.3,683.8 L700.2,677.8 L701.1,677.9 L702.0,681.5 L702.9,676.2 L703.8,677.8 L704.7,681.9 L705.6,680.0 L706.5,676.0 L707.4,674.0 L708.3,681.3 L709.2,682.0 L710.1,676.9 L711.0,676.2 L711.9,676.2 L712.8,678.9 L713.7,675.5 L714.6,674.6 L715.5,677.5 L716.4,674.9 L717.3,678.2 L718.2,672.5 L719.1,671.2 L720.0,671.6 L720.9,677.8 L721.8,673.5 L722.7,676.3 L723.6,675.5 L724.5,680.7 L725.4,669.0 L726.3,678.8 L727.2,674.8 L728.1,672.4 L729.0,677.0 L729.9,673.6 L730.8,673.3 L731.7,665.1 L732.6,668.1 L733.5,673.1 L734.4,666.1 L735.3,673.4 L736.2,665.8 L737.1,671.2 L738.0,667.6 L738.9,670.0 L739.8,668.6 L740.7,666.9 L741.6,669.0 L742.5,664.0 L743.4,671.7 L744.3,672.2 L745.2,668.8 L746.1,668.6 L747.0,674.5 L747.9,668.7 L748.8,664.7 L749.7,658.0 L750.6,666.6 L751.5,668.2 L752.4,654.4 L753.3,662.4 L754.2,653.9 L755.1,659.5 L756.0,654.2 L756.9,654.9 L757.8,652.3 L758.7,656.9 L759.6,658.5 L760.5,656.1 L761.4,653.2 L762.3,655.0 L763.2,649.4 L764.1,644.5 L765.0,644.0 L765.9,651.3 L766.8,648.2 L767.7,648.8 L768.6,643.2 L769.5,648.9 L770.4,645.5 L771.3,648.7 L772.2,647.3 L773.1,642.4 L774.0,645.9 L774.9,639.2 L775.8,641.0 L776.7,646.2 L777.6,649.1 L778.5,645.2 L779.4,649.6 L780.3,641.2 L781.2,639.9 L782.1,640.0 L783.0,643.7 L783.9,639.0 L784.8,638.4 L785.7,644.4 L786.6,645.3 L787.5,648.9 L788.4,647.8 L789.3,646.5 L790.2,656.6 L791.1,654.9 L792.0,670.3 L792.9,658.3 L793.8,669.2 L794.7,669.4 L795.6,674.9 L796.5,673.5 L797.4,674.1 L798.3,675.7 L799.2,683.2 L800.1,679.8 L801.0,685.9 L801.9,682.1 L802.8,683.1 L803.7,682.8 L804.6,685.1 L805.5,688.8 L806.4,691.7 L807.3,682.3 L808.2,687.2 L809.1,686.7 L810.0,687.0 L810.9,686.8 L811.8,686.9 L812.7,691.8 L813.6,687.3 L814.5,685.3 L815.4,688.0 L816.3,692.1 L817.2,697.5 L818.1,692.1 L819.0,695.3 L819.9,692.9 L820.8,702.9 L821.7,699.5 L822.6,706.6 L823.5,708.8 L824.4,704.5 L825.3,711.1 L826.2,709.5 L827.1,706.1 L828.0,712.2 L828.9,705.9 L829.8,711.1 L830.7,711.0 L831.6,707.2 L832.5,712.9 L833.4,708.8 L834.3,711.6 L835.2,712.2 L836.1,708.7 L837.0,709.0 L837.9,712.9 L838.8,709.3 L839.7,713.4 L840.6,713.0 L841.5,708.7 L842.4,714.7 L843.3,714.9 L844.2,708.7 L845.1,708.2 L846.0,709.7 L846.9,717.5 L847.8,718.4 L848.7,708.5 L849.6,711.8 L850.5,716.5 L851.4,719.4 L852.3,704.1 L853.2,708.2 L854.1,717.8 L855.0,704.0 L855.9,709.0 L856.8,701.1 L857.7,707.9 L858.6,694.5 L859.5,691.4 L860.4,700.9 L861.3,695.7 L862.2,688.7 L863.1,693.6 L864.0,683.5 L864.9,688.0 L865.8,677.3 L866.7,689.5 L867.6,683.7 L868.5,683.9 L869.4,687.7 L870.3,686.6 L871.2,686.6 L872.1,681.9 L873.0,692.2 L873.9,694.4 L874.8,693.7 L875.7,692.3 L876.6,699.7 L877.5,691.5 L878.4,690.6 L879.3,684.4 L880.2,683.6 L881.1,671.8 L882.0,676.8 L882.9,669.7 L883.8,681.3 L884.7,655.1 L885.6,670.9 L886.5,652.4 L887.4,661.8 L888.3,660.9 L889.2,666.3 L890.1,657.8 L891.0,654.5 L891.9,655.1 L892.8,641.0 L893.7,652.4 L894.6,641.5 L895.5,650.5 L896.4,655.0 L897.3,634.9 L898.2,645.7 L899.1,637.7 L900.0,634.4 L900.9,645.4 L901.8,641.4 L902.7,635.7 L903.6,647.5 L904.5,650.2 L905.4,668.9 L906.3,662.0 L907.2,671.8 L908.1,683.1 L909.0,669.0 L909.9,686.2 L910.8,674.9 L911.7,677.7 L912.6,668.4 L913.5,684.4 L914.4,678.0 L915.3,678.8 L916.2,672.7 L917.1,682.9 L918.0,673.9 L918.9,683.3 L919.8,674.2 L920.7,687.8 L921.6,673.5 L922.5,688.0 L923.4,674.6 L924.3,678.3 L925.2,676.4 L926.1,677.8 L927.0,684.3 L927.9,664.8 L928.8,674.0 L929.7,659.1 L930.6,665.6 L931.5,651.9 L932.4,652.8 L933.3,657.6 L934.2,651.2 L935.1,653.7 L936.0,646.5 L936.9,660.6 L937.8,653.3 L938.7,657.3 L939.6,652.3 L940.5,646.5 L941.4,656.0 L942.3,648.3 L943.2,656.0 L944.1,645.8 L945.0,654.1 L945.9,649.6 L946.8,648.9 L947.7,646.3 L948.6,641.0 L949.5,641.7 L950.4,645.6 L951.3,642.6 L952.2,640.0 L953.1,640.1 L954.0,645.0 L954.9,640.3 L955.8,640.1 L956.7,638.8 L957.6,639.1 L958.5,640.6 L959.4,636.8 L960.3,630.4 L960.8,638.6 L961.3,640.9 L961.8,628.6 L962.3,618.8 L962.8,618.2 L963.3,628.1 L963.8,605.7 L964.3,616.0 L964.8,606.7 L965.3,602.7 L965.8,599.0 L966.3,603.4 L966.8,606.6 L967.3,596.7 L967.8,610.6 L968.3,616.4 L968.8,592.5 L969.3,584.7 L969.8,583.7 L970.3,594.7 L970.8,615.0 L971.3,609.4 L971.8,592.9 L972.3,603.6 L972.8,612.6 L973.3,593.7 L973.8,596.7 L974.3,589.8 L974.8,600.5 L975.3,588.5 L975.8,599.4 L976.3,588.3 L976.8,602.5 L977.3,596.6 L977.8,590.1 L978.3,602.8 L978.8,580.9 L979.3,601.7 L979.8,593.6 L980.3,604.2 L980.8,602.2 L981.3,598.9 L981.8,591.7 L982.3,594.8 L982.8,598.3 L983.3,619.2 L983.8,623.4 L984.3,586.1 L984.8,583.4 L985.3,609.1 L985.8,588.2 L986.3,588.8 L986.8,601.9 L987.3,610.1 L987.8,610.9 L988.3,618.3 L988.8,619.5 L989.3,600.6 L989.8,621.4 L990.3,628.4 L990.8,610.0 L991.3,624.1 L991.8,611.8 L992.3,618.8 L992.8,602.9 L993.3,622.1 L993.8,621.6 L994.3,611.8 L994.8,601.2 L995.3,621.8 L995.8,602.5 L996.3,615.6 L996.8,604.0 L997.3,613.5 L997.8,602.1 L998.3,606.8 L998.8,612.2 L999.3,594.9 L999.8,605.7 L1000.3,596.5 L1000.8,597.0 L1001.3,595.4 L1001.8,591.9 L1002.3,594.6 L1002.8,592.2 L1003.3,594.8 L1003.8,581.5 L1004.3,577.5 L1004.8,579.4 L1005.3,591.9 L1005.8,586.2 L1006.3,585.5 L1006.8,578.0 L1007.3,587.9 L1007.8,588.4 L1008.3,600.7 L1008.8,579.3 L1009.3,595.0 L1009.8,599.0 L1010.3,590.6 L1010.8,593.4 L1011.3,583.7 L1011.8,608.9 L1012.3,594.7 L1012.8,594.6 L1013.3,592.5 L1013.8,615.4 L1014.3,603.7 L1014.8,602.0 L1015.3,620.0 L1015.8,613.0 L1016.3,624.6 L1016.8,603.1 L1017.3,613.8 L1017.8,609.4 L1018.3,624.3 L1018.8,604.7 L1019.3,611.2 L1019.8,606.4 L1020.3,602.0 L1020.8,608.0 L1021.3,603.6 L1021.8,594.5 L1022.3,593.9 L1022.8,589.9 L1023.3,589.9 L1023.8,591.6 L1024.3,591.5 L1024.8,580.0 L1025.3,596.5 L1025.8,564.3 L1026.3,594.4 L1026.8,601.2 L1027.3,553.4 L1027.8,600.4 L1028.3,592.8 L1028.8,595.6 L1029.3,553.8 L1029.8,567.3 L1030.3,565.7 L1030.8,557.9 L1031.3,549.5 L1031.8,544.7 L1032.3,575.1 L1032.8,580.2 L1033.3,559.8 L1033.8,559.6 L1034.3,586.1 L1034.8,553.0 L1035.3,576.3 L1035.8,561.5 L1036.3,546.3 L1036.8,576.1 L1037.3,582.9 L1037.8,534.5 L1038.3,542.2 L1038.8,587.1 L1039.3,540.3 L1039.8,573.7 L1040.3,567.7 L1040.8,565.4 L1041.3,578.2 L1041.8,540.9 L1042.3,591.9 L1042.8,564.3 L1043.3,590.0 L1043.8,570.9 L1044.3,561.4 L1044.8,584.0 L1045.3,580.5 L1045.8,603.2 L1046.3,571.3 L1046.8,554.5 L1047.3,551.8 L1047.8,574.9 L1048.3,602.1 L1048.8,604.9 L1049.3,551.5 L1049.8,577.6 L1050.3,598.9 L1050.8,572.8 L1051.3,576.5 L1051.8,587.1 L1052.3,555.5 L1052.8,583.9 L1053.3,575.8 L1053.8,605.5 L1054.3,582.5 L1054.8,564.7 L1055.3,568.9 L1055.8,551.7 L1056.3,595.2 L1056.8,590.5 L1057.3,574.9 L1057.8,585.6 L1058.3,578.2 L1058.8,582.6 L1059.3,575.5 L1059.8,564.8 L1060.3,554.9 L1060.8,547.5 L1061.3,561.2 L1061.8,572.5 L1062.3,575.9 L1062.8,562.0 L1063.3,576.2 L1063.8,547.0 L1064.3,571.4 L1064.8,545.4 L1065.3,546.3 L1065.8,586.8 L1066.3,556.7 L1066.8,592.1 L1067.3,570.5 L1067.8,564.6 L1068.3,575.5 L1068.8,576.1 L1069.3,559.4 L1069.8,588.7 L1070.3,569.2 L1070.8,576.2 L1071.3,578.4 L1071.8,603.1 L1072.3,584.1 L1072.8,586.2 L1073.3,584.8 L1073.8,626.0 L1074.3,575.2 L1074.8,609.4 L1075.3,607.1 L1075.8,640.0 L1076.3,597.5 L1076.8,584.3 L1077.3,648.6 L1077.8,591.9 L1078.3,647.7 L1078.8,607.5 L1079.3,602.8 L1079.8,658.8 L1080.3,608.6 L1080.8,634.2 L1081.3,629.0 L1081.8,636.2 L1082.3,655.3 L1082.8,650.9 L1083.3,675.8 L1083.8,685.2 L1084.3,680.5 L1084.8,609.1 L1085.3,692.2 L1085.8,642.0 L1086.3,647.7 L1086.8,667.1 L1087.3,703.7 L1087.8,661.3 L1088.3,618.5 L1088.8,702.3 L1089.3,678.1 L1089.8,645.5 L1090.3,707.8 L1090.8,705.8" fill="none" stroke="#2a2d31" stroke-width="1.1" stroke-linejoin="round" stroke-linecap="round" />
<path d="M904.6,637.0 L905.2,756.6 L905.8,637.0" stroke="#2a2d31" stroke-width="1.1" fill="none"/>
<path d="M928.5,655.2 L929.1,754.0 L929.7,655.2" stroke="#2a2d31" stroke-width="1.1" fill="none"/>
<path d="M889.5,665.6 L890.1,713.7 L890.7,665.6" stroke="#2a2d31" stroke-width="1.1" fill="none"/>
<path d="M989.9,624.0 L990.5,676.0 L991.1,624.0" stroke="#2a2d31" stroke-width="1.1" fill="none"/>
<path d="M243.0,886.0 L249.0,875.6 L250.4,897.6 L255.0,879.6 L258.4,912.4 L261.6,915.4 L264.0,831.0 L266.6,869.6 L271.0,860.6 L281.0,877.4 L286.0,843.0 L290.4,863.6 L294.4,856.6 L298.0,863.0 L301.6,864.6 L307.0,916.0 L311.0,937.6 L314.0,907.0 L318.0,954.4 L321.6,894.0 L325.0,893.0 L326.4,893.4 L329.0,941.0 L332.4,943.0 L337.0,920.0 L339.6,919.6 L344.4,896.6 L348.0,922.0 L351.0,960.4 L355.0,957.6 L362.4,976.4 L365.6,968.0 L370.0,968.4 L373.0,1000.4 L377.0,955.0 L381.0,960.0 L384.4,955.4 L387.0,971.0 L390.0,959.6 L392.0,995.0 L394.4,960.0 L398.0,947.0 L400.6,951.6 L405.0,940.6 L407.0,975.0 L410.0,972.0 L414.0,947.0 L417.0,965.6 L419.0,931.0 L421.0,988.0 L423.4,938.0 L428.0,925.0 L431.0,956.0 L431.6,920.0 L435.6,865.6 L438.0,869.6 L441.0,861.0 L447.0,807.0 L451.0,888.0 L454.4,932.0 L458.0,943.6 L462.4,925.0 L471.0,975.0 L471.0,975.0 L480.0,965.6 L488.0,933.0 L496.0,925.0 L506.0,934.0 L519.6,891.6 L531.6,909.6 L544.6,881.0 L549.6,883.0 L552.4,932.4 L557.0,916.0 L560.4,929.0 L563.0,895.6 L565.6,931.0 L568.0,929.0 L571.0,903.0 L574.0,932.4 L576.6,834.4 L579.6,900.0 L588.6,917.0 L598.0,900.0 L605.6,870.4 L612.0,872.6 L619.0,891.0 L625.6,925.6 L631.6,837.0 L636.6,880.0 L641.0,943.0 L644.0,950.0 L648.0,944.4 L651.0,934.4 L657.0,937.0 L667.6,873.6" fill="none" stroke="#111111" stroke-width="1.9" stroke-linejoin="round" stroke-linecap="round" />
<path d="M669.6,824.1 L673.4,841.6 L677.3,818.9 L681.1,813.4 L685.0,825.6 L689.2,847.4 L693.3,842.0 L697.1,838.4 L700.7,848.4 L704.5,839.9 L708.6,849.9 L712.2,865.5 L716.3,823.0 L720.2,837.1 L722.7,839.0 L725.5,836.5 L730.1,870.4 L733.0,853.8 L735.3,846.1 L737.4,849.3 L741.3,949.8 L743.8,933.1 L747.0,979.2 L749.9,1001.6 L752.2,993.3 L755.7,837.4 L758.3,878.7 L759.8,856.3 L764.3,838.4 L766.0,886.0 L768.8,852.7 L770.3,864.0 L775.8,854.8 L778.8,881.9 L781.6,879.4 L784.8,884.5 L788.0,865.3 L790.8,912.4 L794.1,892.2 L797.2,922.6 L800.8,883.8 L804.0,885.1 L809.1,903.0 L814.2,908.8" fill="none" stroke="#dd2a2a" stroke-width="1.9" stroke-linejoin="round" stroke-linecap="round" />
<path d="M243.0,1097.6 L248.0,1051.0 L251.0,1055.6 L254.4,1057.6 L257.0,1008.4 L260.4,1028.0 L264.0,1051.6 L267.0,1002.0 L270.0,990.0 L276.0,989.6 L279.6,1018.0 L285.0,979.6 L290.0,1058.4 L293.6,1007.0 L297.0,1005.6 L299.0,1007.6 L307.0,1036.0 L311.0,1059.6 L314.4,1027.6 L317.4,1063.4 L321.6,1042.0 L325.6,1047.4 L329.0,1073.6 L333.0,1089.0 L337.0,1066.4 L340.0,1073.6 L344.0,1038.6 L348.0,1075.6 L351.6,1083.6 L358.0,1111.6 L362.0,1107.6 L368.0,1115.6 L373.0,1121.0 L376.0,1093.6 L381.0,1094.4 L384.0,1097.0 L387.6,1121.0 L390.0,1094.0 L391.6,1128.0 L396.0,1092.0 L398.0,1090.0 L400.0,1101.6 L402.0,1075.6 L405.0,1070.4 L406.6,1086.4 L410.6,1089.0 L414.0,1075.6 L416.4,1107.6 L418.4,1072.4 L420.0,1114.0 L423.6,1081.6 L427.6,1068.4 L429.6,1103.6 L432.0,1104.0 L436.0,997.6 L438.0,998.4 L441.0,1011.0 L447.0,962.0 L450.0,1026.0 L453.4,1069.6 L457.0,1077.6 L462.0,1062.0 L471.6,1102.0 L471.0,1102.0 L479.0,1100.0 L488.0,1079.6 L496.0,1065.6 L506.0,1060.0 L519.6,1023.0 L531.0,1033.0 L548.0,1030.0 L552.0,1085.6 L555.6,1052.0 L559.0,1062.6 L561.6,1048.0 L565.0,1063.6 L567.6,1061.0 L570.0,1033.4 L573.0,1060.0 L576.4,1014.6 L579.0,1061.0 L582.4,1097.6 L588.4,1092.0 L597.0,1045.0 L605.0,1067.0 L612.0,1059.4 L619.0,1069.6 L625.0,1089.6 L631.0,1006.4 L637.0,1034.0 L640.4,1093.6 L643.6,1104.0 L646.4,1084.0 L650.6,1074.4 L656.0,1101.0 L661.6,1096.6 L667.0,1060.6" fill="none" stroke="#111111" stroke-width="1.9" stroke-linejoin="round" stroke-linecap="round" />
<path d="M146.2,1380.9 L147.9,1369.4 L149.4,1380.9 L150.4,1370.5 L152.5,1380.9 L154.6,1387.1 L156.6,1385.0 L159.8,1384.0 L162.9,1385.0 L163.9,1389.2 L166.0,1384.0 L169.1,1385.0 L173.3,1387.1 L177.4,1380.9 L179.5,1385.0 L183.7,1385.0 L185.8,1386.1 L189.9,1383.0 L193.0,1375.7 L196.2,1365.3 L199.3,1363.2 L201.4,1371.5 L204.5,1374.6 L208.6,1366.3 L210.7,1349.7 L212.8,1333.0 L213.8,1349.7 L215.9,1232.2 L217.4,1293.5 L220.1,1306.0 L224.2,1292.5 L227.4,1316.4 L228.4,1308.1 L230.5,1310.2 L231.5,1319.5 L233.6,1311.2 L236.7,1324.7 L238.8,1347.6 L243.0,1376.7 L246.1,1370.5 L249.2,1374.6 L252.3,1358.0 L254.4,1379.8 L258.6,1380.9 L260.6,1372.6 L264.8,1378.8 L267.3,1362.2 L270.0,1383.0 L273.1,1374.6 L277.3,1380.9 L279.4,1375.7 L281.4,1387.1 L284.6,1366.3 L288.7,1387.1 L291.8,1358.0 L295.0,1328.9 L297.0,1273.8 L301.8,1361.1 L303.3,1364.2 L306.0,1377.8 L309.5,1381.9 L312.6,1380.9 L315.8,1384.0 L318.9,1385.0 L323.0,1381.9 L326.2,1384.0 L328.2,1369.4 L330.3,1381.9 L333.4,1281.5 L335.9,1358.0 L337.6,1348.6 L341.1,1386.1 L343.8,1378.8 L347.0,1380.9 L350.1,1375.7 L353.2,1376.7 L356.3,1373.6 L358.4,1375.7 L360.1,1357.0 L363.0,1371.5 L366.7,1346.6 L371.9,1320.6 L377.1,1276.9 L380.9,1266.5 L384.4,1274.8 L387.5,1291.4 L391.7,1232.2 L394.8,1235.3 L397.9,1273.8 L390.0,1232.4 L394.0,1235.0 L397.4,1272.8 L401.9,1212.0 L405.3,1259.6 L408.5,1223.9 L413.8,1219.2 L416.4,1243.7 L420.4,1250.3 L424.3,1250.8 L429.1,1256.1 L432.8,1249.5 L438.3,1263.5 L442.8,1256.1 L446.8,1268.8 L452.0,1245.0 L457.3,1208.1 L462.6,1185.6 L467.9,1173.2 L473.2,1177.7 L478.4,1189.1 L484.5,1183.8 L490.3,1182.5 L496.9,1168.0 L503.5,1182.2 L510.9,1178.5 L523.3,1188.3 L524.1,1165.3 L532.6,1165.3 L540.0,1177.2 L548.4,1227.9 L556.3,1177.7 L574.3,1166.6 L584.0,1187.8 L593.3,1202.8 L602.5,1208.6 L613.1,1212.6 L622.3,1198.3 L631.6,1200.2 L642.1,1206.0 L651.4,1220.0 L660.6,1213.4 L669.8,1220.0 L679.1,1230.5 L687.0,1226.0 L695.7,1234.5 L704.2,1266.7 L711.6,1238.4 L703.6,1267.1 L710.8,1238.3 L718.0,1252.0 L725.9,1265.2 L731.7,1251.5 L739.6,1258.0 L745.6,1276.0 L751.6,1267.1 L757.1,1275.3 L762.9,1272.9 L769.1,1275.5 L773.9,1248.9 L778.7,1234.0 L784.0,1226.3 L789.3,1202.3 L793.6,1204.0 L797.9,1201.6 L803.2,1207.6 L807.5,1184.3 L811.6,1198.0 L815.7,1166.3 L820.5,1164.4 L824.8,1166.3 L827.7,1174.0 L831.5,1160.8 L834.9,1174.0 L838.7,1212.4 L842.1,1181.2 L845.9,1181.2 L849.3,1167.5 L852.4,1179.3 L855.5,1201.6 L858.4,1184.3 L862.7,1188.4 L865.1,1190.3 L868.0,1205.7 L870.9,1198.0 L874.7,1194.4 L877.6,1236.9 L879.5,1234.0 L882.9,1211.9 L887.7,1238.3 L890.8,1237.6 L893.2,1250.8 L896.8,1228.0 L898.7,1241.2 L901.6,1224.4 L904.0,1253.9 L907.6,1224.4 L909.3,1241.2 L911.2,1183.1 L914.1,1223.2 L916.5,1204.7 L918.9,1230.4 L920.8,1235.9 L922.7,1226.3 L925.6,1233.5 L927.5,1246.0 L930.4,1212.9 L932.3,1216.0 L934.0,1198.0 L936.4,1222.0 L940.0,1235.2 L942.4,1238.3 L944.8,1245.5 L947.7,1238.8 L951.5,1253.2 L953.9,1265.7 L956.3,1250.3 L958.0,1248.4 L960.4,1235.2 L962.8,1245.5 L965.2,1249.6 L967.6,1255.6 L970.0,1246.0 L972.4,1247.9 L974.8,1285.6 L977.9,1235.9 L982.0,1250.8 L983.7,1250.8 L986.1,1238.8 L988.0,1241.2 L990.4,1231.6 L992.8,1257.5 L995.7,1250.8 L990.2,1231.4 L992.7,1256.0 L995.8,1253.6 L997.7,1251.1 L999.5,1265.9 L1000.7,1244.3 L1003.2,1259.8 L1005.7,1261.0 L1008.8,1295.6 L1010.0,1261.0 L1011.9,1265.9 L1013.7,1279.5 L1014.9,1269.6 L1016.8,1282.0 L1018.6,1273.3 L1019.9,1251.1 L1021.7,1280.7 L1024.2,1265.9 L1026.7,1269.6 L1028.9,1289.4 L1030.4,1269.6 L1032.8,1259.8 L1034.7,1249.9 L1036.5,1262.2 L1038.4,1247.4 L1040.2,1256.0 L1041.5,1251.1 L1044.0,1258.5 L1045.8,1253.6 L1048.9,1247.4 L1050.7,1253.6 L1053.2,1257.3 L1055.1,1275.8 L1056.9,1282.0 L1058.8,1295.6 L1059.4,1312.8 L1060.6,1300.5 L1062.5,1288.1 L1063.7,1283.2 L1064.9,1305.4 L1066.8,1279.5 L1068.0,1306.7 L1069.9,1319.0 L1071.1,1327.7 L1072.3,1322.7 L1073.6,1337.5 L1075.4,1343.7 L1077.9,1349.9 L1079.1,1337.5 L1080.4,1319.0 L1081.6,1310.4 L1082.8,1327.7 L1084.7,1299.3 L1085.9,1300.5 L1087.8,1319.0 L1089.0,1337.5 L1089.9,1362.2 L1090.9,1344.9 L1091.5,1349.9" fill="none" stroke="#c0504d" stroke-width="2.3" stroke-linejoin="round" stroke-linecap="round" />
<path d="M144.0,1477.0 L185.5,1584.5 L224.5,1550.5 L268.3,1505.7 L337.6,1490.0 L350.7,1511.5 L359.0,1583.5 L376.7,1675.0 L410.7,1732.6 L431.0,1663.0 L448.8,1629.8 L487.6,1567.3 L543.9,1486.8 L598.3,1572.2 L673.1,1619.8 L719.6,1582.6 L750.6,1710.6 L786.4,1484.7 L812.0,1451.0 L831.2,1573.0 L869.0,1540.6 L900.0,1607.2 L936.8,1636.0 L967.2,1633.4 L1009.8,1593.1 L1060.6,1680.2" fill="none" stroke="#dd2a2a" stroke-width="2.4" stroke-linejoin="round" stroke-linecap="round" />
<rect x="131.0" y="1474.2" width="26.0" height="5.6" rx="1.5" fill="#dd2a2a"/>
<rect x="172.0" y="1581.7" width="26.0" height="5.6" rx="1.5" fill="#dd2a2a"/>
<rect x="211.0" y="1547.7" width="26.0" height="5.6" rx="1.5" fill="#dd2a2a"/>
<rect x="254.0" y="1502.9" width="35.0" height="5.6" rx="1.5" fill="#dd2a2a"/>
<rect x="324.0" y="1487.2" width="26.0" height="5.6" rx="1.5" fill="#dd2a2a"/>
<rect x="337.0" y="1508.7" width="27.0" height="5.6" rx="1.5" fill="#dd2a2a"/>
<rect x="345.0" y="1580.7" width="27.0" height="5.6" rx="1.5" fill="#dd2a2a"/>
<rect x="363.0" y="1672.2" width="26.0" height="5.6" rx="1.5" fill="#dd2a2a"/>
<rect x="397.0" y="1729.8" width="27.0" height="5.6" rx="1.5" fill="#dd2a2a"/>
<rect x="417.5" y="1660.2" width="26.5" height="5.6" rx="1.5" fill="#dd2a2a"/>
<rect x="436.0" y="1627.0" width="26.0" height="5.6" rx="1.5" fill="#dd2a2a"/>
<rect x="474.0" y="1564.5" width="26.4" height="5.6" rx="1.5" fill="#dd2a2a"/>
<rect x="530.6" y="1484.0" width="26.4" height="5.6" rx="1.5" fill="#dd2a2a"/>
<rect x="585.0" y="1569.4" width="26.4" height="5.6" rx="1.5" fill="#dd2a2a"/>
<rect x="659.8" y="1617.0" width="26.4" height="5.6" rx="1.5" fill="#dd2a2a"/>
<rect x="706.0" y="1579.8" width="26.4" height="5.6" rx="1.5" fill="#dd2a2a"/>
<rect x="737.8" y="1707.8" width="25.6" height="5.6" rx="1.5" fill="#dd2a2a"/>
<rect x="773.6" y="1481.8" width="25.6" height="5.6" rx="1.5" fill="#dd2a2a"/>
<rect x="799.2" y="1448.2" width="30.4" height="5.6" rx="1.5" fill="#dd2a2a"/>
<rect x="812.6" y="1570.2" width="45.8" height="5.6" rx="1.5" fill="#dd2a2a"/>
<rect x="838.2" y="1537.8" width="65.6" height="5.6" rx="1.5" fill="#dd2a2a"/>
<rect x="872.2" y="1604.4" width="63.6" height="5.6" rx="1.5" fill="#dd2a2a"/>
<rect x="915.4" y="1633.2" width="43.2" height="5.6" rx="1.5" fill="#dd2a2a"/>
<rect x="945.8" y="1630.6" width="52.4" height="5.6" rx="1.5" fill="#dd2a2a"/>
<rect x="993.8" y="1590.3" width="33.6" height="5.6" rx="1.5" fill="#dd2a2a"/>
<rect x="1028.0" y="1677.4" width="61.8" height="5.6" rx="1.5" fill="#dd2a2a"/>
<path d="M145.0,1471.0 V1483.0 M141.5,1471.0 H148.5 M141.5,1483.0 H148.5" stroke="#222" stroke-width="1.3" fill="none"/>
<path d="M185.7,1578.6 V1591.1 M182.2,1578.6 H189.2 M182.2,1591.1 H189.2" stroke="#222" stroke-width="1.3" fill="none"/>
<path d="M224.9,1544.9 V1557.1 M221.4,1544.9 H228.4 M221.4,1557.1 H228.4" stroke="#222" stroke-width="1.3" fill="none"/>
<path d="M268.3,1499.4 V1512.3 M264.8,1499.4 H271.8 M264.8,1512.3 H271.8" stroke="#222" stroke-width="1.3" fill="none"/>
<path d="M337.6,1483.8 V1496.3 M334.1,1483.8 H341.1 M334.1,1496.3 H341.1" stroke="#222" stroke-width="1.3" fill="none"/>
<path d="M350.7,1505.7 V1517.7 M347.2,1505.7 H354.2 M347.2,1517.7 H354.2" stroke="#222" stroke-width="1.3" fill="none"/>
<path d="M359.0,1577.5 V1589.8 M355.5,1577.5 H362.5 M355.5,1589.8 H362.5" stroke="#222" stroke-width="1.3" fill="none"/>
<path d="M376.7,1669.0 V1681.5 M373.2,1669.0 H380.2 M373.2,1681.5 H380.2" stroke="#222" stroke-width="1.3" fill="none"/>
<path d="M410.7,1727.7 V1739.0 M407.2,1727.7 H414.2 M407.2,1739.0 H414.2" stroke="#222" stroke-width="1.3" fill="none"/>
<path d="M431.0,1657.0 V1669.2 M427.5,1657.0 H434.5 M427.5,1669.2 H434.5" stroke="#222" stroke-width="1.3" fill="none"/>
<path d="M448.8,1623.8 V1636.6 M445.3,1623.8 H452.3 M445.3,1636.6 H452.3" stroke="#222" stroke-width="1.3" fill="none"/>
<path d="M487.6,1561.0 V1573.8 M484.1,1561.0 H491.1 M484.1,1573.8 H491.1" stroke="#222" stroke-width="1.3" fill="none"/>
<path d="M543.9,1480.3 V1493.0 M540.4,1480.3 H547.4 M540.4,1493.0 H547.4" stroke="#222" stroke-width="1.3" fill="none"/>
<path d="M598.3,1566.5 V1578.7 M594.8,1566.5 H601.8 M594.8,1578.7 H601.8" stroke="#222" stroke-width="1.3" fill="none"/>
<path d="M673.1,1614.0 V1626.3 M669.6,1614.0 H676.6 M669.6,1626.3 H676.6" stroke="#222" stroke-width="1.3" fill="none"/>
<path d="M719.6,1576.8 V1589.0 M716.1,1576.8 H723.1 M716.1,1589.0 H723.1" stroke="#222" stroke-width="1.3" fill="none"/>
<path d="M750.6,1705.4 V1717.0 M747.1,1705.4 H754.1 M747.1,1717.0 H754.1" stroke="#222" stroke-width="1.3" fill="none"/>
<path d="M786.4,1479.2 V1491.0 M782.9,1479.2 H789.9 M782.9,1491.0 H789.9" stroke="#222" stroke-width="1.3" fill="none"/>
<path d="M812.0,1445.6 V1457.8 M808.5,1445.6 H815.5 M808.5,1457.8 H815.5" stroke="#222" stroke-width="1.3" fill="none"/>
<path d="M831.2,1567.2 V1579.4 M827.7,1567.2 H834.7 M827.7,1579.4 H834.7" stroke="#222" stroke-width="1.3" fill="none"/>
<path d="M869.0,1535.8 V1547.4 M865.5,1535.8 H872.5 M865.5,1547.4 H872.5" stroke="#222" stroke-width="1.3" fill="none"/>
<path d="M900.0,1601.8 V1614.0 M896.5,1601.8 H903.5 M896.5,1614.0 H903.5" stroke="#222" stroke-width="1.3" fill="none"/>
<path d="M936.8,1630.6 V1642.4 M933.3,1630.6 H940.3 M933.3,1642.4 H940.3" stroke="#222" stroke-width="1.3" fill="none"/>
<path d="M967.2,1628.0 V1640.2 M963.7,1628.0 H970.7 M963.7,1640.2 H970.7" stroke="#222" stroke-width="1.3" fill="none"/>
<path d="M1009.8,1587.4 V1599.2 M1006.3,1587.4 H1013.3 M1006.3,1599.2 H1013.3" stroke="#222" stroke-width="1.3" fill="none"/>
<path d="M1060.6,1674.4 V1686.6 M1057.1,1674.4 H1064.1 M1057.1,1686.6 H1064.1" stroke="#222" stroke-width="1.3" fill="none"/>
<path d="M143.6,1897.4 L184.3,1869.6 L223.0,1825.3 L266.5,1896.6 L336.4,1849.8 L348.9,1938.7 L357.6,1985.3 L376.1,2068.8 L410.1,2157.2 L430.5,2122.6 L448.2,2142.8 L486.4,2081.4 L543.8,2049.3 L597.4,2047.1 L672.7,2039.8 L719.0,1996.2 L750.5,2043.3 L786.4,1943.8 L812.5,1964.4 L830.7,1987.3 L868.3,1931.8 L899.6,1949.5 L937.4,1848.6 L966.7,1824.9 L1010.8,1854.8 L1060.6,1901.6" fill="none" stroke="#000000" stroke-width="3.6" stroke-linejoin="round" stroke-linecap="round" />
<rect x="132.5" y="1895.6" width="20.1" height="4.0" fill="#000"/>
<rect x="173.5" y="1867.6" width="20.4" height="4.0" fill="#000"/>
<rect x="212.1" y="1823.2" width="20.9" height="4.0" fill="#000"/>
<rect x="253.7" y="1894.6" width="35.1" height="4.0" fill="#000"/>
<rect x="326.3" y="1847.8" width="20.4" height="4.0" fill="#000"/>
<rect x="338.6" y="1936.7" width="20.4" height="4.0" fill="#000"/>
<rect x="347.3" y="1983.3" width="20.4" height="4.0" fill="#000"/>
<rect x="365.8" y="2066.8" width="20.4" height="4.0" fill="#000"/>
<rect x="399.8" y="2155.2" width="20.4" height="4.0" fill="#000"/>
<rect x="420.2" y="2120.6" width="20.4" height="4.0" fill="#000"/>
<rect x="438.4" y="2140.8" width="20.4" height="4.0" fill="#000"/>
<rect x="475.8" y="2079.4" width="20.4" height="4.0" fill="#000"/>
<rect x="532.9" y="2047.3" width="21.0" height="4.0" fill="#000"/>
<rect x="587.9" y="2045.1" width="20.4" height="4.0" fill="#000"/>
<rect x="662.7" y="2037.8" width="20.4" height="4.0" fill="#000"/>
<rect x="708.9" y="1994.2" width="20.4" height="4.0" fill="#000"/>
<rect x="740.2" y="2041.3" width="20.9" height="4.0" fill="#000"/>
<rect x="783.1" y="1941.8" width="13.1" height="4.0" fill="#000"/>
<rect x="798.9" y="1962.4" width="31.3" height="4.0" fill="#000"/>
<rect x="812.2" y="1985.3" width="46.3" height="4.0" fill="#000"/>
<rect x="838.3" y="1929.8" width="65.9" height="4.0" fill="#000"/>
<rect x="871.5" y="1947.5" width="64.8" height="4.0" fill="#000"/>
<rect x="914.5" y="1846.6" width="53.6" height="4.0" fill="#000"/>
<rect x="944.4" y="1822.9" width="53.6" height="4.0" fill="#000"/>
<rect x="993.4" y="1852.8" width="33.7" height="4.0" fill="#000"/>
<rect x="1027.1" y="1899.6" width="62.6" height="4.0" fill="#000"/>
<path d="M143.6,1894.0 V1904.6 M140.1,1894.0 H147.1 M140.1,1904.6 H147.1" stroke="#333" stroke-width="1.2" fill="none"/>
<path d="M184.3,1864.0 V1875.6 M180.8,1864.0 H187.8 M180.8,1875.6 H187.8" stroke="#333" stroke-width="1.2" fill="none"/>
<path d="M223.0,1817.7 V1833.2 M219.5,1817.7 H226.5 M219.5,1833.2 H226.5" stroke="#333" stroke-width="1.2" fill="none"/>
<path d="M266.5,1889.8 V1904.7 M263.0,1889.8 H270.0 M263.0,1904.7 H270.0" stroke="#333" stroke-width="1.2" fill="none"/>
<path d="M336.4,1842.7 V1857.7 M332.9,1842.7 H339.9 M332.9,1857.7 H339.9" stroke="#333" stroke-width="1.2" fill="none"/>
<path d="M348.9,1932.8 V1946.4 M345.4,1932.8 H352.4 M345.4,1946.4 H352.4" stroke="#333" stroke-width="1.2" fill="none"/>
<path d="M357.6,1978.2 V1993.7 M354.1,1978.2 H361.1 M354.1,1993.7 H361.1" stroke="#333" stroke-width="1.2" fill="none"/>
<path d="M376.1,2062.5 V2076.9 M372.6,2062.5 H379.6 M372.6,2076.9 H379.6" stroke="#333" stroke-width="1.2" fill="none"/>
<path d="M410.1,2151.5 V2165.0 M406.6,2151.5 H413.6 M406.6,2165.0 H413.6" stroke="#333" stroke-width="1.2" fill="none"/>
<path d="M430.5,2116.4 V2129.7 M427.0,2116.4 H434.0 M427.0,2129.7 H434.0" stroke="#333" stroke-width="1.2" fill="none"/>
<path d="M448.2,2137.3 V2150.9 M444.7,2137.3 H451.7 M444.7,2150.9 H451.7" stroke="#333" stroke-width="1.2" fill="none"/>
<path d="M486.4,2073.8 V2089.3 M482.9,2073.8 H489.9 M482.9,2089.3 H489.9" stroke="#333" stroke-width="1.2" fill="none"/>
<path d="M543.8,2042.5 V2057.5 M540.3,2042.5 H547.3 M540.3,2057.5 H547.3" stroke="#333" stroke-width="1.2" fill="none"/>
<path d="M597.4,2039.0 V2056.1 M593.9,2039.0 H600.9 M593.9,2056.1 H600.9" stroke="#333" stroke-width="1.2" fill="none"/>
<path d="M672.7,2033.0 V2048.0 M669.2,2033.0 H676.2 M669.2,2048.0 H676.2" stroke="#333" stroke-width="1.2" fill="none"/>
<path d="M719.0,1989.4 V2003.0 M715.5,1989.4 H722.5 M715.5,2003.0 H722.5" stroke="#333" stroke-width="1.2" fill="none"/>
<path d="M750.5,2036.5 V2051.2 M747.0,2036.5 H754.0 M747.0,2051.2 H754.0" stroke="#333" stroke-width="1.2" fill="none"/>
<path d="M786.4,1939.1 V1947.3 M782.9,1939.1 H789.9 M782.9,1947.3 H789.9" stroke="#333" stroke-width="1.2" fill="none"/>
<path d="M812.5,1958.2 V1970.4 M809.0,1958.2 H816.0 M809.0,1970.4 H816.0" stroke="#333" stroke-width="1.2" fill="none"/>
<path d="M830.7,1980.0 V1995.4 M827.2,1980.0 H834.2 M827.2,1995.4 H834.2" stroke="#333" stroke-width="1.2" fill="none"/>
<path d="M868.3,1924.2 V1941.0 M864.8,1924.2 H871.8 M864.8,1941.0 H871.8" stroke="#333" stroke-width="1.2" fill="none"/>
<path d="M899.6,1941.0 V1959.0 M896.1,1941.0 H903.1 M896.1,1959.0 H903.1" stroke="#333" stroke-width="1.2" fill="none"/>
<path d="M937.4,1842.0 V1855.6 M933.9,1842.0 H940.9 M933.9,1855.6 H940.9" stroke="#333" stroke-width="1.2" fill="none"/>
<path d="M966.7,1819.4 V1832.2 M963.2,1819.4 H970.2 M963.2,1832.2 H970.2" stroke="#333" stroke-width="1.2" fill="none"/>
<path d="M1010.8,1846.6 V1863.8 M1007.3,1846.6 H1014.3 M1007.3,1863.8 H1014.3" stroke="#333" stroke-width="1.2" fill="none"/>
<path d="M1060.6,1894.8 V1908.4 M1057.1,1894.8 H1064.1 M1057.1,1908.4 H1064.1" stroke="#333" stroke-width="1.2" fill="none"/>
<path d="M184.1,1430.4 V1447.4 M176.4,1431 H191.6 M176.4,1446.8 H191.6" stroke="#dd2a2a" stroke-width="3" fill="none"/>
<text x="198.2" y="1447.0" font-family="Liberation Sans, sans-serif" font-size="21" font-weight="normal" fill="#231f20" text-anchor="start" textLength="23" lengthAdjust="spacingAndGlyphs" >2σ</text>
<path d="M183.4,2090.9 V2129.3 M176.3,2091.5 H191 M176.3,2128.7 H191" stroke="#231f20" stroke-width="2.6" fill="none"/>
<text x="198.7" y="2119.7" font-family="Liberation Sans, sans-serif" font-size="20" font-weight="normal" fill="#231f20" text-anchor="start" textLength="23" lengthAdjust="spacingAndGlyphs" >2σ</text>
<rect x="143.6" y="90.5" width="949.9" height="2087.5" fill="none" stroke="#1a1a1a" stroke-width="2.9"/>
<line x1="283.7" y1="84.5" x2="283.7" y2="90.5" stroke="#1a1a1a" stroke-width="2.6"/>
<line x1="432" y1="84.5" x2="432" y2="90.5" stroke="#1a1a1a" stroke-width="2.6"/>
<line x1="580.2" y1="84.5" x2="580.2" y2="90.5" stroke="#1a1a1a" stroke-width="2.6"/>
<line x1="728.6" y1="84.5" x2="728.6" y2="90.5" stroke="#1a1a1a" stroke-width="2.6"/>
<line x1="877.6" y1="84.5" x2="877.6" y2="90.5" stroke="#1a1a1a" stroke-width="2.6"/>
<line x1="1026" y1="84.5" x2="1026" y2="90.5" stroke="#1a1a1a" stroke-width="2.6"/>
<line x1="289.1" y1="2171.3" x2="289.1" y2="2178.0" stroke="#1a1a1a" stroke-width="2.6"/>
<line x1="437.9" y1="2171.3" x2="437.9" y2="2178.0" stroke="#1a1a1a" stroke-width="2.6"/>
<line x1="586.5" y1="2171.3" x2="586.5" y2="2178.0" stroke="#1a1a1a" stroke-width="2.6"/>
<line x1="735.3" y1="2171.3" x2="735.3" y2="2178.0" stroke="#1a1a1a" stroke-width="2.6"/>
<line x1="883.6" y1="2171.3" x2="883.6" y2="2178.0" stroke="#1a1a1a" stroke-width="2.6"/>
<line x1="1032.5" y1="2171.3" x2="1032.5" y2="2178.0" stroke="#1a1a1a" stroke-width="2.6"/>
<line x1="132.5" y1="106.9" x2="143.6" y2="106.9" stroke="#1a1a1a" stroke-width="2.7"/>
<line x1="132.5" y1="156.2" x2="143.6" y2="156.2" stroke="#1a1a1a" stroke-width="2.7"/>
<line x1="132.5" y1="205.4" x2="143.6" y2="205.4" stroke="#1a1a1a" stroke-width="2.7"/>
<line x1="132.5" y1="252.8" x2="143.6" y2="252.8" stroke="#1a1a1a" stroke-width="2.7"/>
<line x1="132.5" y1="303.4" x2="143.6" y2="303.4" stroke="#1a1a1a" stroke-width="2.7"/>
<line x1="132.5" y1="539" x2="143.6" y2="539" stroke="#1a1a1a" stroke-width="2.7"/>
<line x1="132.5" y1="634.1" x2="143.6" y2="634.1" stroke="#1a1a1a" stroke-width="2.7"/>
<line x1="132.5" y1="727.8" x2="143.6" y2="727.8" stroke="#1a1a1a" stroke-width="2.7"/>
<line x1="132.5" y1="840.5" x2="143.6" y2="840.5" stroke="#1a1a1a" stroke-width="2.7"/>
<line x1="132.5" y1="900.4" x2="143.6" y2="900.4" stroke="#1a1a1a" stroke-width="2.7"/>
<line x1="132.5" y1="965.7" x2="143.6" y2="965.7" stroke="#1a1a1a" stroke-width="2.7"/>
<line x1="132.5" y1="1162.6" x2="143.6" y2="1162.6" stroke="#1a1a1a" stroke-width="2.7"/>
<line x1="132.5" y1="1220" x2="143.6" y2="1220" stroke="#1a1a1a" stroke-width="2.7"/>
<line x1="132.5" y1="1277" x2="143.6" y2="1277" stroke="#1a1a1a" stroke-width="2.7"/>
<line x1="132.5" y1="1333.5" x2="143.6" y2="1333.5" stroke="#1a1a1a" stroke-width="2.7"/>
<line x1="132.5" y1="1391" x2="143.6" y2="1391" stroke="#1a1a1a" stroke-width="2.7"/>
<line x1="132.5" y1="1446.8" x2="143.6" y2="1446.8" stroke="#1a1a1a" stroke-width="2.7"/>
<line x1="132.5" y1="1507" x2="143.6" y2="1507" stroke="#1a1a1a" stroke-width="2.7"/>
<line x1="132.5" y1="1567.2" x2="143.6" y2="1567.2" stroke="#1a1a1a" stroke-width="2.7"/>
<line x1="132.5" y1="1628" x2="143.6" y2="1628" stroke="#1a1a1a" stroke-width="2.7"/>
<line x1="132.5" y1="1688" x2="143.6" y2="1688" stroke="#1a1a1a" stroke-width="2.7"/>
<line x1="132.5" y1="1748.3" x2="143.6" y2="1748.3" stroke="#1a1a1a" stroke-width="2.7"/>
<line x1="1093.5" y1="339.4" x2="1105.5" y2="339.4" stroke="#1a1a1a" stroke-width="2.7"/>
<line x1="1093.5" y1="376.6" x2="1105.5" y2="376.6" stroke="#1a1a1a" stroke-width="2.7"/>
<line x1="1093.5" y1="413.7" x2="1105.5" y2="413.7" stroke="#1a1a1a" stroke-width="2.7"/>
<line x1="1093.5" y1="451.7" x2="1105.5" y2="451.7" stroke="#1a1a1a" stroke-width="2.7"/>
<line x1="1093.5" y1="489.6" x2="1105.5" y2="489.6" stroke="#1a1a1a" stroke-width="2.7"/>
<line x1="1093.5" y1="531" x2="1105.5" y2="531" stroke="#1a1a1a" stroke-width="2.7"/>
<line x1="1093.5" y1="589.6" x2="1105.5" y2="589.6" stroke="#1a1a1a" stroke-width="2.7"/>
<line x1="1093.5" y1="648" x2="1105.5" y2="648" stroke="#1a1a1a" stroke-width="2.7"/>
<line x1="1093.5" y1="707" x2="1105.5" y2="707" stroke="#1a1a1a" stroke-width="2.7"/>
<line x1="1093.5" y1="817" x2="1105.5" y2="817" stroke="#1a1a1a" stroke-width="2.7"/>
<line x1="1093.5" y1="866" x2="1105.5" y2="866" stroke="#1a1a1a" stroke-width="2.7"/>
<line x1="1093.5" y1="915.6" x2="1105.5" y2="915.6" stroke="#1a1a1a" stroke-width="2.7"/>
<line x1="1093.5" y1="992.4" x2="1105.5" y2="992.4" stroke="#1a1a1a" stroke-width="2.7"/>
<line x1="1093.5" y1="1058" x2="1105.5" y2="1058" stroke="#1a1a1a" stroke-width="2.7"/>
<line x1="1093.5" y1="1123" x2="1105.5" y2="1123" stroke="#1a1a1a" stroke-width="2.7"/>
<line x1="1093.5" y1="1787.1" x2="1105.5" y2="1787.1" stroke="#1a1a1a" stroke-width="2.7"/>
<line x1="1093.5" y1="1836" x2="1105.5" y2="1836" stroke="#1a1a1a" stroke-width="2.7"/>
<line x1="1093.5" y1="1884.1" x2="1105.5" y2="1884.1" stroke="#1a1a1a" stroke-width="2.7"/>
<line x1="1093.5" y1="1933.2" x2="1105.5" y2="1933.2" stroke="#1a1a1a" stroke-width="2.7"/>
<line x1="1093.5" y1="1982.2" x2="1105.5" y2="1982.2" stroke="#1a1a1a" stroke-width="2.7"/>
<line x1="1093.5" y1="2031.1" x2="1105.5" y2="2031.1" stroke="#1a1a1a" stroke-width="2.7"/>
<line x1="1093.5" y1="2079.6" x2="1105.5" y2="2079.6" stroke="#1a1a1a" stroke-width="2.7"/>
<line x1="1093.5" y1="2128.8" x2="1105.5" y2="2128.8" stroke="#1a1a1a" stroke-width="2.7"/>
<text x="122.1" y="115.0" font-family="Liberation Sans, sans-serif" font-size="23.5" font-weight="bold" fill="#231f20" text-anchor="end" >8</text>
<text x="122.1" y="164.3" font-family="Liberation Sans, sans-serif" font-size="23.5" font-weight="bold" fill="#231f20" text-anchor="end" >6</text>
<text x="122.1" y="213.5" font-family="Liberation Sans, sans-serif" font-size="23.5" font-weight="bold" fill="#231f20" text-anchor="end" >4</text>
<text x="122.1" y="260.9" font-family="Liberation Sans, sans-serif" font-size="23.5" font-weight="bold" fill="#231f20" text-anchor="end" >2</text>
<text x="122.1" y="311.5" font-family="Liberation Sans, sans-serif" font-size="23.5" font-weight="bold" fill="#231f20" text-anchor="end" >0</text>
<text x="127.4" y="547.1" font-family="Liberation Sans, sans-serif" font-size="23.5" font-weight="bold" fill="#231f20" text-anchor="end" >15,000</text>
<text x="127.4" y="642.2" font-family="Liberation Sans, sans-serif" font-size="23.5" font-weight="bold" fill="#231f20" text-anchor="end" >10,000</text>
<text x="127.4" y="735.9" font-family="Liberation Sans, sans-serif" font-size="23.5" font-weight="bold" fill="#231f20" text-anchor="end" >5,000</text>
<text x="124.1" y="848.6" font-family="Liberation Sans, sans-serif" font-size="23.5" font-weight="bold" fill="#231f20" text-anchor="end" >-6</text>
<text x="124.1" y="908.5" font-family="Liberation Sans, sans-serif" font-size="23.5" font-weight="bold" fill="#231f20" text-anchor="end" >-7</text>
<text x="124.1" y="973.8" font-family="Liberation Sans, sans-serif" font-size="23.5" font-weight="bold" fill="#231f20" text-anchor="end" >-8</text>
<text x="126.0" y="1170.7" font-family="Liberation Sans, sans-serif" font-size="23.5" font-weight="bold" fill="#c0504d" text-anchor="end" >40</text>
<text x="126.0" y="1228.1" font-family="Liberation Sans, sans-serif" font-size="23.5" font-weight="bold" fill="#c0504d" text-anchor="end" >30</text>
<text x="126.0" y="1285.1" font-family="Liberation Sans, sans-serif" font-size="23.5" font-weight="bold" fill="#c0504d" text-anchor="end" >20</text>
<text x="126.0" y="1341.6" font-family="Liberation Sans, sans-serif" font-size="23.5" font-weight="bold" fill="#c0504d" text-anchor="end" >10</text>
<text x="126.0" y="1399.1" font-family="Liberation Sans, sans-serif" font-size="23.5" font-weight="bold" fill="#c0504d" text-anchor="end" >0</text>
<text x="123.5" y="1454.9" font-family="Liberation Sans, sans-serif" font-size="23.5" font-weight="bold" fill="#dd2a2a" text-anchor="end" >5</text>
<text x="123.5" y="1515.1" font-family="Liberation Sans, sans-serif" font-size="23.5" font-weight="bold" fill="#dd2a2a" text-anchor="end" >-5</text>
<text x="123.5" y="1575.3" font-family="Liberation Sans, sans-serif" font-size="23.5" font-weight="bold" fill="#dd2a2a" text-anchor="end" >-15</text>
<text x="123.5" y="1636.1" font-family="Liberation Sans, sans-serif" font-size="23.5" font-weight="bold" fill="#dd2a2a" text-anchor="end" >-25</text>
<text x="123.5" y="1696.1" font-family="Liberation Sans, sans-serif" font-size="23.5" font-weight="bold" fill="#dd2a2a" text-anchor="end" >-35</text>
<text x="123.5" y="1756.4" font-family="Liberation Sans, sans-serif" font-size="23.5" font-weight="bold" fill="#dd2a2a" text-anchor="end" >-45</text>
<text x="1117.9" y="347.5" font-family="Liberation Sans, sans-serif" font-size="23.5" font-weight="bold" fill="#a3501f" text-anchor="start" >100</text>
<text x="1117.9" y="384.7" font-family="Liberation Sans, sans-serif" font-size="23.5" font-weight="bold" fill="#a3501f" text-anchor="start" >80</text>
<text x="1117.9" y="421.8" font-family="Liberation Sans, sans-serif" font-size="23.5" font-weight="bold" fill="#a3501f" text-anchor="start" >60</text>
<text x="1117.9" y="459.8" font-family="Liberation Sans, sans-serif" font-size="23.5" font-weight="bold" fill="#a3501f" text-anchor="start" >40</text>
<text x="1117.9" y="497.7" font-family="Liberation Sans, sans-serif" font-size="23.5" font-weight="bold" fill="#a3501f" text-anchor="start" >20</text>
<text x="1118.0" y="539.1" font-family="Liberation Sans, sans-serif" font-size="23.5" font-weight="bold" fill="#ea7e2e" text-anchor="start" >40,000</text>
<text x="1118.0" y="597.7" font-family="Liberation Sans, sans-serif" font-size="23.5" font-weight="bold" fill="#ea7e2e" text-anchor="start" >30,000</text>
<text x="1118.0" y="656.1" font-family="Liberation Sans, sans-serif" font-size="23.5" font-weight="bold" fill="#ea7e2e" text-anchor="start" >20,000</text>
<text x="1118.0" y="715.1" font-family="Liberation Sans, sans-serif" font-size="23.5" font-weight="bold" fill="#ea7e2e" text-anchor="start" >10,000</text>
<text x="1116.0" y="825.1" font-family="Liberation Sans, sans-serif" font-size="23.5" font-weight="bold" fill="#dd2a2a" text-anchor="start" >90</text>
<text x="1116.0" y="874.1" font-family="Liberation Sans, sans-serif" font-size="23.5" font-weight="bold" fill="#dd2a2a" text-anchor="start" >80</text>
<text x="1116.0" y="923.7" font-family="Liberation Sans, sans-serif" font-size="23.5" font-weight="bold" fill="#dd2a2a" text-anchor="start" >70</text>
<text x="1116.0" y="1000.5" font-family="Liberation Sans, sans-serif" font-size="23.5" font-weight="bold" fill="#231f20" text-anchor="start" >0.05</text>
<text x="1116.0" y="1066.1" font-family="Liberation Sans, sans-serif" font-size="23.5" font-weight="bold" fill="#231f20" text-anchor="start" >0.04</text>
<text x="1116.0" y="1131.1" font-family="Liberation Sans, sans-serif" font-size="23.5" font-weight="bold" fill="#231f20" text-anchor="start" >0.03</text>
<text x="1118.3" y="1795.2" font-family="Liberation Sans, sans-serif" font-size="23.5" font-weight="bold" fill="#231f20" text-anchor="start" >1</text>
<text x="1118.3" y="1844.1" font-family="Liberation Sans, sans-serif" font-size="23.5" font-weight="bold" fill="#231f20" text-anchor="start" >0.5</text>
<text x="1118.3" y="1892.2" font-family="Liberation Sans, sans-serif" font-size="23.5" font-weight="bold" fill="#231f20" text-anchor="start" >0</text>
<text x="1118.3" y="1941.3" font-family="Liberation Sans, sans-serif" font-size="23.5" font-weight="bold" fill="#231f20" text-anchor="start" >-0.5</text>
<text x="1118.3" y="1990.3" font-family="Liberation Sans, sans-serif" font-size="23.5" font-weight="bold" fill="#231f20" text-anchor="start" >-1</text>
<text x="1118.3" y="2039.2" font-family="Liberation Sans, sans-serif" font-size="23.5" font-weight="bold" fill="#231f20" text-anchor="start" >-1.5</text>
<text x="1118.3" y="2087.7" font-family="Liberation Sans, sans-serif" font-size="23.5" font-weight="bold" fill="#231f20" text-anchor="start" >-2</text>
<text x="1118.3" y="2136.9" font-family="Liberation Sans, sans-serif" font-size="23.5" font-weight="bold" fill="#231f20" text-anchor="start" >-2.5</text>
<text x="132.0" y="72.8" font-family="Liberation Sans, sans-serif" font-size="24.3" font-weight="bold" fill="#231f20" text-anchor="start" textLength="13.2" lengthAdjust="spacingAndGlyphs" >0</text>
<text x="258.8" y="72.8" font-family="Liberation Sans, sans-serif" font-size="24.3" font-weight="bold" fill="#231f20" text-anchor="start" textLength="65.2" lengthAdjust="spacingAndGlyphs" >2,000</text>
<text x="410.0" y="72.8" font-family="Liberation Sans, sans-serif" font-size="24.3" font-weight="bold" fill="#231f20" text-anchor="start" textLength="65.8" lengthAdjust="spacingAndGlyphs" >4,000</text>
<text x="558.0" y="72.8" font-family="Liberation Sans, sans-serif" font-size="24.3" font-weight="bold" fill="#231f20" text-anchor="start" textLength="65.6" lengthAdjust="spacingAndGlyphs" >6,000</text>
<text x="707.2" y="72.8" font-family="Liberation Sans, sans-serif" font-size="24.3" font-weight="bold" fill="#231f20" text-anchor="start" textLength="65.6" lengthAdjust="spacingAndGlyphs" >8,000</text>
<text x="851.2" y="72.8" font-family="Liberation Sans, sans-serif" font-size="24.3" font-weight="bold" fill="#231f20" text-anchor="start" textLength="79.8" lengthAdjust="spacingAndGlyphs" >10,000</text>
<text x="997.4" y="72.8" font-family="Liberation Sans, sans-serif" font-size="24.3" font-weight="bold" fill="#231f20" text-anchor="start" textLength="79.8" lengthAdjust="spacingAndGlyphs" >12,000</text>
<text x="140.0" y="2210.0" font-family="Liberation Sans, sans-serif" font-size="26.5" font-weight="bold" fill="#231f20" text-anchor="start" textLength="12.5" lengthAdjust="spacingAndGlyphs" >0</text>
<text x="266.0" y="2210.0" font-family="Liberation Sans, sans-serif" font-size="26.5" font-weight="bold" fill="#231f20" text-anchor="start" textLength="65.2" lengthAdjust="spacingAndGlyphs" >2,000</text>
<text x="417.7" y="2210.0" font-family="Liberation Sans, sans-serif" font-size="26.5" font-weight="bold" fill="#231f20" text-anchor="start" textLength="65.9" lengthAdjust="spacingAndGlyphs" >4,000</text>
<text x="566.8" y="2210.0" font-family="Liberation Sans, sans-serif" font-size="26.5" font-weight="bold" fill="#231f20" text-anchor="start" textLength="64.8" lengthAdjust="spacingAndGlyphs" >6,000</text>
<text x="715.6" y="2210.0" font-family="Liberation Sans, sans-serif" font-size="26.5" font-weight="bold" fill="#231f20" text-anchor="start" textLength="64.8" lengthAdjust="spacingAndGlyphs" >8,000</text>
<text x="858.7" y="2210.0" font-family="Liberation Sans, sans-serif" font-size="26.5" font-weight="bold" fill="#231f20" text-anchor="start" textLength="79.2" lengthAdjust="spacingAndGlyphs" >10,000</text>
<text x="1003.7" y="2210.0" font-family="Liberation Sans, sans-serif" font-size="26.5" font-weight="bold" fill="#231f20" text-anchor="start" textLength="80.1" lengthAdjust="spacingAndGlyphs" >12,000</text>
<text x="530.0" y="30.0" font-family="Liberation Sans, sans-serif" font-size="33" font-weight="bold" fill="#231f20" text-anchor="start" textLength="235" lengthAdjust="spacingAndGlyphs" >Age (cal yr BP)</text>
<text x="548.8" y="2256.0" font-family="Liberation Sans, sans-serif" font-size="34" font-weight="bold" fill="#231f20" text-anchor="start" textLength="234.4" lengthAdjust="spacingAndGlyphs" >Age (cal yr BP)</text>
<text x="1025.4" y="293.8" font-family="Liberation Sans, sans-serif" font-size="51" font-weight="normal" fill="#231f20" text-anchor="start" textLength="56.1" lengthAdjust="spacingAndGlyphs" >(a)</text>
<text x="1023.3" y="473.7" font-family="Liberation Sans, sans-serif" font-size="51" font-weight="normal" fill="#231f20" text-anchor="start" textLength="59.2" lengthAdjust="spacingAndGlyphs" >(b)</text>
<text x="1026.0" y="740.3" font-family="Liberation Sans, sans-serif" font-size="51" font-weight="normal" fill="#231f20" text-anchor="start" textLength="53" lengthAdjust="spacingAndGlyphs" >(c)</text>
<text x="1023.0" y="1108.3" font-family="Liberation Sans, sans-serif" font-size="51" font-weight="normal" fill="#231f20" text-anchor="start" textLength="60" lengthAdjust="spacingAndGlyphs" >(d)</text>
<text x="1024.8" y="1373.7" font-family="Liberation Sans, sans-serif" font-size="51" font-weight="normal" fill="#231f20" text-anchor="start" textLength="55.6" lengthAdjust="spacingAndGlyphs" >(e)</text>
<text x="1026.4" y="1470.1" font-family="Liberation Sans, sans-serif" font-size="51" font-weight="normal" fill="#231f20" text-anchor="start" textLength="52.8" lengthAdjust="spacingAndGlyphs" >(f)</text>
<text transform="translate(39.3,366.5) rotate(-90)" font-family="Liberation Sans, sans-serif" font-size="36" font-weight="bold" fill="#231f20" textLength="324.5" lengthAdjust="spacingAndGlyphs" >Cultivated &amp; <tspan fill="#22a84a">ruderal</tspan></text>
<text transform="translate(85.5,316.5) rotate(-90)" font-family="Liberation Sans, sans-serif" font-size="35" font-weight="bold" fill="#231f20" textLength="221" lengthAdjust="spacingAndGlyphs" >plant taxa (%)</text>
<text transform="translate(31.4,680.5) rotate(-90)" font-family="Liberation Sans, sans-serif" font-size="35" font-weight="bold" fill="#231f20" textLength="105.6" lengthAdjust="spacingAndGlyphs" >K (cts.)</text>
<text transform="translate(83.8,1017.0) rotate(-90)" font-family="Liberation Sans, sans-serif" font-size="36" font-weight="bold" fill="#231f20" textLength="232" lengthAdjust="spacingAndGlyphs" >δ<tspan font-size="24" dy="-12">13</tspan><tspan dy="12">C (‰) VPDB</tspan></text>
<text transform="translate(79.4,1345.7) rotate(-90)" font-family="Liberation Sans, sans-serif" font-size="36" font-weight="bold" fill="#c0504d" textLength="157.7" lengthAdjust="spacingAndGlyphs" >CaCO<tspan font-size="22" dy="4">3</tspan><tspan dy="-4"> (%)</tspan></text>
<text transform="translate(83.2,1625.6) rotate(-90)" font-family="Liberation Sans, sans-serif" font-size="36" font-weight="bold" fill="#dd2a2a" textLength="157.6" lengthAdjust="spacingAndGlyphs" >δ<tspan font-size="24" dy="-12">234</tspan><tspan dy="12">U (‰)</tspan></text>
<text transform="translate(80.6,2128.3) rotate(-90)" font-family="Liberation Sans, sans-serif" font-size="36" font-weight="bold" fill="#231f20" textLength="235.2" lengthAdjust="spacingAndGlyphs" >Clay formation</text>
<text transform="translate(78.7,2174.4) rotate(-90)" font-family="Liberation Sans, sans-serif" font-size="34" font-weight="bold" fill="#231f20" >+</text>
<text transform="translate(78.7,1863.4) rotate(-90)" font-family="Liberation Sans, sans-serif" font-size="34" font-weight="bold" fill="#231f20" >-</text>
<line x1="104.6" y1="1891.8" x2="104.6" y2="2115.9" stroke="#231f20" stroke-width="4.2"/>
<text transform="translate(1191.2,491.2) rotate(-90)" font-family="Liberation Sans, sans-serif" font-size="35" font-weight="bold" fill="#a3501f" textLength="149.6" lengthAdjust="spacingAndGlyphs" >Total tree</text>
<text transform="translate(1238.4,493.6) rotate(-90)" font-family="Liberation Sans, sans-serif" font-size="35" font-weight="bold" fill="#a3501f" textLength="161.6" lengthAdjust="spacingAndGlyphs" >pollen (%)</text>
<text transform="translate(1230.0,672.0) rotate(-90)" font-family="Liberation Sans, sans-serif" font-size="35" font-weight="bold" fill="#ea7e2e" textLength="121" lengthAdjust="spacingAndGlyphs" >Fe (cts.)</text>
<text transform="translate(1182.0,947.0) rotate(-90)" font-family="Liberation Sans, sans-serif" font-size="35" font-weight="bold" fill="#dd2a2a" textLength="154" lengthAdjust="spacingAndGlyphs" >Total tree</text>
<text transform="translate(1229.0,945.0) rotate(-90)" font-family="Liberation Sans, sans-serif" font-size="35" font-weight="bold" fill="#dd2a2a" textLength="160" lengthAdjust="spacingAndGlyphs" >pollen (%)</text>
<text transform="translate(1204.4,1125.5) rotate(-90)" font-family="Liberation Sans, sans-serif" font-size="26.5" font-weight="normal" fill="#231f20" textLength="102.8" lengthAdjust="spacingAndGlyphs" stroke="#231f20" stroke-width="0.8">[Mg : Ca]</text>
<text transform="translate(1214.8,1019.0) rotate(-90)" font-family="Liberation Sans, sans-serif" font-size="15" font-weight="normal" fill="#231f20" textLength="40" lengthAdjust="spacingAndGlyphs" >molar</text>
<line x1="1118.9" y1="1450" x2="1118.9" y2="1674.4" stroke="#dd2a2a" stroke-width="4.2"/>
<text transform="translate(1159.8,1612.3) rotate(-90)" font-family="Liberation Sans, sans-serif" font-size="35" font-weight="bold" fill="#dd2a2a" textLength="116.3" lengthAdjust="spacingAndGlyphs" >Erosion</text>
<text transform="translate(1150.0,1472.7) rotate(-90)" font-family="Liberation Sans, sans-serif" font-size="21" font-weight="normal" fill="#dd2a2a" textLength="47.3" lengthAdjust="spacingAndGlyphs" >deep</text>
<text transform="translate(1153.0,1712.5) rotate(-90)" font-family="Liberation Sans, sans-serif" font-size="21" font-weight="normal" fill="#dd2a2a" textLength="74.1" lengthAdjust="spacingAndGlyphs" >shallow</text>
<text transform="translate(1197.0,2019.7) rotate(-90)" font-family="Liberation Sans, sans-serif" font-size="35" font-weight="bold" fill="#231f20" textLength="131.2" lengthAdjust="spacingAndGlyphs" >δ<tspan font-size="22" dy="-11">7</tspan><tspan dy="11">Li (‰)</tspan></text>
<text transform="translate(258.7,1781.0) rotate(-90)" font-family="Liberation Sans, sans-serif" font-size="26" font-weight="bold" fill="#231f20" textLength="176.7" lengthAdjust="spacingAndGlyphs" >Human Impact</text>
<text transform="translate(294.4,1781.0) rotate(-90)" font-family="Liberation Sans, sans-serif" font-size="26" font-weight="bold" fill="#231f20" textLength="169.6" lengthAdjust="spacingAndGlyphs" >Late Holocene</text>
<text transform="translate(432.4,1982.3) rotate(-90)" font-family="Liberation Sans, sans-serif" font-size="26" font-weight="bold" fill="#231f20" textLength="146.9" lengthAdjust="spacingAndGlyphs" >4.2 ka event</text>
<text transform="translate(583.4,1926.5) rotate(-90)" font-family="Liberation Sans, sans-serif" font-size="26" font-weight="bold" fill="#231f20" textLength="166.7" lengthAdjust="spacingAndGlyphs" >Mid Holocene</text>
<text transform="translate(761.5,1932.6) rotate(-90)" font-family="Liberation Sans, sans-serif" font-size="26" font-weight="bold" fill="#231f20" textLength="146.6" lengthAdjust="spacingAndGlyphs" >8.2 ka event</text>
<text transform="translate(899.0,1846.0) rotate(-90)" font-family="Liberation Sans, sans-serif" font-size="27" font-weight="bold" fill="#231f20" textLength="177.7" lengthAdjust="spacingAndGlyphs" >Early Holocene</text>
<text transform="translate(1050.0,2126.9) rotate(-90)" font-family="Liberation Sans, sans-serif" font-size="27" font-weight="bold" fill="#231f20" textLength="167.4" lengthAdjust="spacingAndGlyphs" >Younger Dryas</text></svg>
</body></html>
